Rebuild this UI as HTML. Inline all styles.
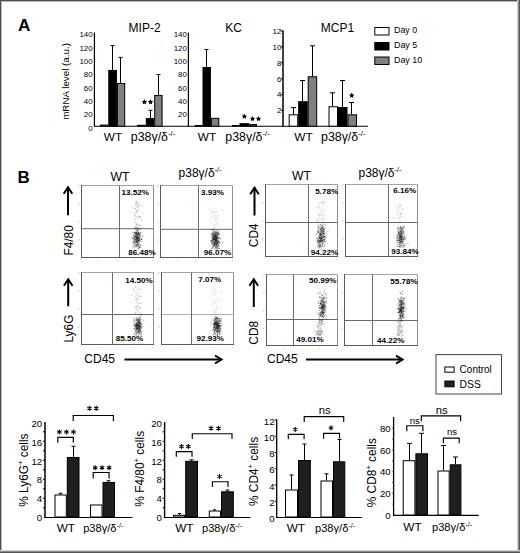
<!DOCTYPE html>
<html><head><meta charset="utf-8"><style>
html,body{margin:0;padding:0;background:#fff;}
svg{display:block;font-family:"Liberation Sans", sans-serif;}
text{fill:#000;}
</style></head><body>
<svg width="520" height="553" viewBox="0 0 520 553">
<defs><filter id="bl" x="-20%" y="-20%" width="140%" height="140%"><feGaussianBlur stdDeviation="0.35"/></filter></defs>
<rect x="0" y="0" width="520" height="553" fill="#fff"/>
<text x="17.90" y="30.50" font-size="17.2" text-anchor="start" font-weight="bold" >A</text>
<line x1="94.00" y1="126.20" x2="368.00" y2="126.20" stroke="#000" stroke-width="1.1"/>
<line x1="94.40" y1="32.50" x2="94.40" y2="126.70" stroke="#000" stroke-width="1.2"/>
<text x="92.60" y="130.80" font-size="7.9" text-anchor="end" font-weight="normal" >0</text>
<text x="92.60" y="117.44" font-size="7.9" text-anchor="end" font-weight="normal" >20</text>
<text x="92.60" y="104.08" font-size="7.9" text-anchor="end" font-weight="normal" >40</text>
<text x="92.60" y="90.72" font-size="7.9" text-anchor="end" font-weight="normal" >60</text>
<text x="92.60" y="77.36" font-size="7.9" text-anchor="end" font-weight="normal" >80</text>
<text x="92.60" y="64.00" font-size="7.9" text-anchor="end" font-weight="normal" >100</text>
<text x="92.60" y="50.64" font-size="7.9" text-anchor="end" font-weight="normal" >120</text>
<text x="92.60" y="37.28" font-size="7.9" text-anchor="end" font-weight="normal" >140</text>
<text x="144.60" y="31.70" font-size="12" text-anchor="middle" font-weight="normal" >MIP-2</text>
<text x="68.8" y="81.4" font-size="9.8" text-anchor="middle" font-weight="normal" transform="rotate(-90 68.8 81.4)">mRNA level (a.u.)</text>
<rect x="100.50" y="125.10" width="7.30" height="1.10" fill="#fff" stroke="#000" stroke-width="1"/>
<rect x="108.80" y="70.40" width="7.60" height="55.80" fill="#000" stroke="#000" stroke-width="1"/>
<rect x="117.40" y="83.50" width="7.30" height="42.70" fill="#808080" stroke="#000" stroke-width="1"/>
<line x1="112.50" y1="45.50" x2="112.50" y2="69.90" stroke="#000" stroke-width="1"/>
<line x1="110.50" y1="45.50" x2="114.50" y2="45.50" stroke="#000" stroke-width="1"/>
<line x1="120.50" y1="57.40" x2="120.50" y2="83.00" stroke="#000" stroke-width="1"/>
<line x1="118.50" y1="57.40" x2="122.50" y2="57.40" stroke="#000" stroke-width="1"/>
<rect x="137.50" y="125.30" width="7.80" height="0.90" fill="#fff" stroke="#000" stroke-width="1"/>
<rect x="146.30" y="118.60" width="7.40" height="7.60" fill="#000" stroke="#000" stroke-width="1"/>
<rect x="154.70" y="95.50" width="7.40" height="30.70" fill="#808080" stroke="#000" stroke-width="1"/>
<line x1="150.50" y1="110.30" x2="150.50" y2="118.10" stroke="#000" stroke-width="1"/>
<line x1="148.50" y1="110.30" x2="152.50" y2="110.30" stroke="#000" stroke-width="1"/>
<line x1="158.50" y1="74.50" x2="158.50" y2="95.00" stroke="#000" stroke-width="1"/>
<line x1="156.50" y1="74.50" x2="160.50" y2="74.50" stroke="#000" stroke-width="1"/>
<polygon points="144.50,99.25 145.34,100.84 147.12,101.15 145.86,102.44 146.12,104.22 144.50,103.43 142.88,104.22 143.14,102.44 141.88,101.15 143.66,100.84" fill="#000"/>
<polygon points="150.50,99.25 151.34,100.84 153.12,101.15 151.86,102.44 152.12,104.22 150.50,103.43 148.88,104.22 149.14,102.44 147.88,101.15 149.66,100.84" fill="#000"/>
<text x="113.00" y="141.40" font-size="11.8" text-anchor="middle" font-weight="normal" >WT</text>
<text x="130.8" y="141.4" font-size="12.4" text-anchor="start">p38&#947;/&#948;<tspan font-size="7.69" dy="-5.21">-/-</tspan></text>
<line x1="188.40" y1="32.50" x2="188.40" y2="126.70" stroke="#000" stroke-width="1.2"/>
<text x="186.80" y="117.44" font-size="7.9" text-anchor="end" font-weight="normal" >20</text>
<text x="186.80" y="104.08" font-size="7.9" text-anchor="end" font-weight="normal" >40</text>
<text x="186.80" y="90.72" font-size="7.9" text-anchor="end" font-weight="normal" >60</text>
<text x="186.80" y="77.36" font-size="7.9" text-anchor="end" font-weight="normal" >80</text>
<text x="186.80" y="64.00" font-size="7.9" text-anchor="end" font-weight="normal" >100</text>
<text x="186.80" y="50.64" font-size="7.9" text-anchor="end" font-weight="normal" >120</text>
<text x="186.80" y="37.28" font-size="7.9" text-anchor="end" font-weight="normal" >140</text>
<text x="233.60" y="32.00" font-size="12" text-anchor="middle" font-weight="normal" >KC</text>
<rect x="195.50" y="125.50" width="6.50" height="0.70" fill="#fff" stroke="#000" stroke-width="1"/>
<rect x="203.00" y="67.50" width="7.40" height="58.70" fill="#000" stroke="#000" stroke-width="1"/>
<rect x="211.40" y="118.30" width="7.40" height="7.90" fill="#808080" stroke="#000" stroke-width="1"/>
<line x1="206.50" y1="49.50" x2="206.50" y2="67.00" stroke="#000" stroke-width="1"/>
<line x1="204.50" y1="49.50" x2="208.50" y2="49.50" stroke="#000" stroke-width="1"/>
<rect x="232.50" y="125.50" width="6.50" height="0.70" fill="#fff" stroke="#000" stroke-width="1"/>
<rect x="240.00" y="123.70" width="8.90" height="2.50" fill="#000" stroke="#000" stroke-width="1"/>
<rect x="249.90" y="124.60" width="6.60" height="1.60" fill="#333" stroke="#000" stroke-width="1"/>
<polygon points="244.40,113.75 245.24,115.34 247.02,115.65 245.76,116.94 246.02,118.72 244.40,117.93 242.78,118.72 243.04,116.94 241.78,115.65 243.56,115.34" fill="#000"/>
<polygon points="252.50,116.05 253.34,117.64 255.12,117.95 253.86,119.24 254.12,121.02 252.50,120.23 250.88,121.02 251.14,119.24 249.88,117.95 251.66,117.64" fill="#000"/>
<polygon points="258.50,116.05 259.34,117.64 261.12,117.95 259.86,119.24 260.12,121.02 258.50,120.23 256.88,121.02 257.14,119.24 255.88,117.95 257.66,117.64" fill="#000"/>
<text x="207.00" y="141.40" font-size="11.8" text-anchor="middle" font-weight="normal" >WT</text>
<text x="225.3" y="141.4" font-size="12.4" text-anchor="start">p38&#947;/&#948;<tspan font-size="7.69" dy="-5.21">-/-</tspan></text>
<line x1="283.00" y1="30.50" x2="283.00" y2="126.70" stroke="#000" stroke-width="1.5"/>
<line x1="281.00" y1="110.58" x2="283.00" y2="110.58" stroke="#000" stroke-width="1"/>
<text x="281.30" y="113.38" font-size="7.9" text-anchor="end" font-weight="normal" >2</text>
<line x1="281.00" y1="94.66" x2="283.00" y2="94.66" stroke="#000" stroke-width="1"/>
<text x="281.30" y="97.46" font-size="7.9" text-anchor="end" font-weight="normal" >4</text>
<line x1="281.00" y1="78.74" x2="283.00" y2="78.74" stroke="#000" stroke-width="1"/>
<text x="281.30" y="81.54" font-size="7.9" text-anchor="end" font-weight="normal" >6</text>
<line x1="281.00" y1="62.82" x2="283.00" y2="62.82" stroke="#000" stroke-width="1"/>
<text x="281.30" y="65.62" font-size="7.9" text-anchor="end" font-weight="normal" >8</text>
<line x1="281.00" y1="46.90" x2="283.00" y2="46.90" stroke="#000" stroke-width="1"/>
<text x="281.30" y="49.70" font-size="7.9" text-anchor="end" font-weight="normal" >10</text>
<line x1="281.00" y1="30.98" x2="283.00" y2="30.98" stroke="#000" stroke-width="1"/>
<text x="281.30" y="33.78" font-size="7.9" text-anchor="end" font-weight="normal" >12</text>
<text x="337.40" y="32.40" font-size="12" text-anchor="middle" font-weight="normal" >MCP1</text>
<rect x="289.20" y="114.80" width="8.50" height="11.40" fill="#fff" stroke="#000" stroke-width="1"/>
<rect x="298.70" y="101.70" width="8.50" height="24.50" fill="#000" stroke="#000" stroke-width="1"/>
<rect x="308.20" y="76.80" width="8.50" height="49.40" fill="#808080" stroke="#000" stroke-width="1"/>
<line x1="293.50" y1="107.60" x2="293.50" y2="114.30" stroke="#000" stroke-width="1"/>
<line x1="291.00" y1="107.60" x2="296.00" y2="107.60" stroke="#000" stroke-width="1"/>
<line x1="302.50" y1="80.50" x2="302.50" y2="101.20" stroke="#000" stroke-width="1"/>
<line x1="300.00" y1="80.50" x2="305.00" y2="80.50" stroke="#000" stroke-width="1"/>
<line x1="312.50" y1="45.80" x2="312.50" y2="76.30" stroke="#000" stroke-width="1"/>
<line x1="310.00" y1="45.80" x2="315.00" y2="45.80" stroke="#000" stroke-width="1"/>
<rect x="329.00" y="106.80" width="8.50" height="19.40" fill="#fff" stroke="#000" stroke-width="1"/>
<rect x="338.50" y="107.50" width="8.50" height="18.70" fill="#000" stroke="#000" stroke-width="1"/>
<rect x="348.00" y="114.80" width="8.50" height="11.40" fill="#808080" stroke="#000" stroke-width="1"/>
<line x1="332.50" y1="92.80" x2="332.50" y2="106.30" stroke="#000" stroke-width="1"/>
<line x1="330.00" y1="92.80" x2="335.00" y2="92.80" stroke="#000" stroke-width="1"/>
<line x1="342.50" y1="80.50" x2="342.50" y2="107.00" stroke="#000" stroke-width="1"/>
<line x1="340.00" y1="80.50" x2="345.00" y2="80.50" stroke="#000" stroke-width="1"/>
<line x1="351.50" y1="102.50" x2="351.50" y2="114.30" stroke="#000" stroke-width="1"/>
<line x1="349.00" y1="102.50" x2="354.00" y2="102.50" stroke="#000" stroke-width="1"/>
<polygon points="351.70,92.75 352.54,94.34 354.32,94.65 353.06,95.94 353.32,97.72 351.70,96.93 350.08,97.72 350.34,95.94 349.08,94.65 350.86,94.34" fill="#000"/>
<text x="303.50" y="141.40" font-size="11.8" text-anchor="middle" font-weight="normal" >WT</text>
<text x="321" y="141.4" font-size="12.4" text-anchor="start">p38&#947;/&#948;<tspan font-size="7.69" dy="-5.21">-/-</tspan></text>
<rect x="374.80" y="27.50" width="14.20" height="7.50" fill="#fff" stroke="#000" stroke-width="1"/>
<rect x="374.80" y="42.50" width="14.20" height="7.50" fill="#000" stroke="#000" stroke-width="1"/>
<rect x="374.80" y="57.00" width="14.20" height="7.50" fill="#808080" stroke="#000" stroke-width="1"/>
<text x="394.00" y="33.20" font-size="8.9" text-anchor="start" font-weight="normal" >Day 0</text>
<text x="394.00" y="48.20" font-size="8.9" text-anchor="start" font-weight="normal" >Day 5</text>
<text x="394.00" y="63.20" font-size="8.9" text-anchor="start" font-weight="normal" >Day 10</text>
<text x="17.50" y="182.90" font-size="16.9" text-anchor="start" font-weight="bold" >B</text>
<text x="119.90" y="180.60" font-size="12.2" text-anchor="middle" font-weight="normal" >WT</text>
<text x="178.6" y="177.1" font-size="12" text-anchor="start">p38&#947;/&#948;<tspan font-size="7.44" dy="-5.04">-/-</tspan></text>
<text x="301.50" y="179.90" font-size="12.2" text-anchor="middle" font-weight="normal" >WT</text>
<text x="358.5" y="177.1" font-size="12" text-anchor="start">p38&#947;/&#948;<tspan font-size="7.44" dy="-5.04">-/-</tspan></text>
<line x1="81.50" y1="185.50" x2="153.50" y2="185.50" stroke="#a2a2a2" stroke-width="1"/>
<line x1="153.50" y1="185.50" x2="153.50" y2="257.50" stroke="#929292" stroke-width="1"/>
<line x1="81.50" y1="185.00" x2="81.50" y2="258.00" stroke="#5a5a5a" stroke-width="1"/>
<line x1="81.50" y1="257.50" x2="154.00" y2="257.50" stroke="#5a5a5a" stroke-width="1"/>
<line x1="81.50" y1="228.70" x2="153.50" y2="228.70" stroke="#6a6a6a" stroke-width="1"/>
<line x1="119.50" y1="185.50" x2="119.50" y2="257.50" stroke="#6a6a6a" stroke-width="1"/>
<line x1="78.00" y1="186.70" x2="79.70" y2="185.30" stroke="#aaa" stroke-width="0.7"/>
<line x1="78.00" y1="204.70" x2="79.70" y2="203.30" stroke="#aaa" stroke-width="0.7"/>
<line x1="78.00" y1="222.70" x2="79.70" y2="221.30" stroke="#aaa" stroke-width="0.7"/>
<line x1="78.00" y1="240.70" x2="79.70" y2="239.30" stroke="#aaa" stroke-width="0.7"/>
<line x1="98.50" y1="261.20" x2="99.50" y2="260.00" stroke="#aaa" stroke-width="0.7"/>
<line x1="116.50" y1="261.20" x2="117.50" y2="260.00" stroke="#aaa" stroke-width="0.7"/>
<line x1="134.50" y1="261.20" x2="135.50" y2="260.00" stroke="#aaa" stroke-width="0.7"/>
<line x1="152.50" y1="261.20" x2="153.50" y2="260.00" stroke="#aaa" stroke-width="0.7"/>
<g filter="url(#bl)"><path d="M138.3 210.1h1v1h-1zM136.0 203.0h1v1h-1zM130.5 217.2h1v1h-1zM133.9 218.9h1v1h-1zM138.4 202.7h1v1h-1zM134.5 221.4h1v1h-1zM134.5 201.6h1v1h-1zM141.0 211.0h1v1h-1zM136.7 202.7h1v1h-1zM137.3 206.8h1v1h-1zM138.0 201.0h1v1h-1zM136.6 218.2h1v1h-1zM134.7 208.1h1v1h-1zM135.0 214.0h1v1h-1zM136.6 215.8h1v1h-1zM134.2 211.0h1v1h-1zM137.8 221.3h1v1h-1zM134.0 204.7h1v1h-1zM138.9 215.7h1v1h-1z" fill="#000" fill-opacity="0.10"/><path d="M139.2 216.0h1v1h-1zM135.3 202.6h1v1h-1zM136.7 212.9h1v1h-1zM140.6 225.0h1v1h-1zM137.1 213.7h1v1h-1zM139.9 217.2h1v1h-1zM141.0 219.1h1v1h-1zM138.6 203.3h1v1h-1zM132.9 208.8h1v1h-1zM131.7 205.9h1v1h-1zM132.6 207.5h1v1h-1zM136.3 201.1h1v1h-1zM136.2 210.6h1v1h-1zM138.3 227.8h1v1h-1zM142.7 227.2h1v1h-1zM135.6 207.2h1v1h-1zM139.7 224.5h1v1h-1zM136.7 224.1h1v1h-1zM136.8 210.9h1v1h-1zM134.9 208.0h1v1h-1z" fill="#000" fill-opacity="0.15"/><path d="M137.6 206.1h1v1h-1zM134.2 220.1h1v1h-1zM135.6 223.2h1v1h-1zM135.3 205.3h1v1h-1zM136.3 222.4h1v1h-1zM134.7 225.5h1v1h-1zM139.0 224.5h1v1h-1zM135.0 202.7h1v1h-1zM135.9 211.8h1v1h-1zM130.2 211.3h1v1h-1zM133.6 215.4h1v1h-1zM135.1 212.0h1v1h-1zM136.8 225.2h1v1h-1zM136.1 223.9h1v1h-1zM135.6 201.8h1v1h-1zM136.5 219.3h1v1h-1zM135.0 228.4h1v1h-1zM138.0 207.7h1v1h-1zM134.6 215.0h1v1h-1zM131.9 205.8h1v1h-1zM136.8 210.1h1v1h-1zM136.4 216.6h1v1h-1zM139.7 233.8h1v1h-1zM135.7 231.9h1v1h-1zM138.2 237.5h1v1h-1zM138.4 235.6h1v1h-1zM139.0 239.5h1v1h-1zM139.2 235.1h1v1h-1zM136.0 233.7h1v1h-1zM132.9 244.0h1v1h-1zM137.0 230.3h1v1h-1zM135.8 234.6h1v1h-1zM135.6 241.5h1v1h-1zM136.3 237.4h1v1h-1zM137.3 231.9h1v1h-1zM134.9 235.0h1v1h-1zM133.1 239.3h1v1h-1zM138.6 235.1h1v1h-1zM137.0 237.7h1v1h-1zM138.9 247.4h1v1h-1z" fill="#000" fill-opacity="0.20"/><path d="M135.0 218.6h1v1h-1zM137.7 205.0h1v1h-1zM134.3 215.7h1v1h-1zM143.2 212.7h1v1h-1zM136.4 202.7h1v1h-1zM136.1 204.6h1v1h-1zM139.7 216.4h1v1h-1zM141.5 219.9h1v1h-1zM138.1 225.5h1v1h-1zM135.6 203.8h1v1h-1zM138.3 224.8h1v1h-1zM136.5 224.2h1v1h-1zM139.3 216.2h1v1h-1zM135.0 208.3h1v1h-1zM137.3 215.9h1v1h-1zM136.9 210.2h1v1h-1zM140.9 224.9h1v1h-1zM137.1 206.5h1v1h-1zM135.2 226.5h1v1h-1zM134.6 222.0h1v1h-1zM136.3 210.3h1v1h-1zM134.2 228.2h1v1h-1zM139.3 204.6h1v1h-1zM140.6 205.1h1v1h-1zM134.4 228.2h1v1h-1zM133.6 213.1h1v1h-1zM134.9 208.3h1v1h-1zM138.4 217.3h1v1h-1zM136.3 201.1h1v1h-1zM135.5 239.1h1v1h-1zM136.3 232.5h1v1h-1zM137.9 243.8h1v1h-1zM135.6 236.8h1v1h-1zM134.4 235.3h1v1h-1zM138.7 246.9h1v1h-1zM136.6 240.4h1v1h-1zM136.2 238.0h1v1h-1zM131.4 230.6h1v1h-1zM137.6 233.3h1v1h-1zM137.8 237.4h1v1h-1zM134.4 231.6h1v1h-1zM139.7 246.1h1v1h-1zM137.8 236.3h1v1h-1zM137.2 237.2h1v1h-1zM135.7 232.3h1v1h-1zM136.4 243.5h1v1h-1zM137.9 233.9h1v1h-1zM142.2 235.0h1v1h-1zM133.9 231.9h1v1h-1zM135.8 241.0h1v1h-1zM135.7 243.6h1v1h-1zM142.3 240.9h1v1h-1zM133.2 237.9h1v1h-1zM137.9 236.7h1v1h-1zM136.7 241.8h1v1h-1zM136.5 235.3h1v1h-1zM136.4 236.1h1v1h-1zM139.1 241.2h1v1h-1zM136.2 227.2h1v1h-1zM136.9 242.1h1v1h-1zM135.0 234.5h1v1h-1zM135.7 240.9h1v1h-1zM138.6 242.0h1v1h-1zM133.4 238.3h1v1h-1zM138.4 236.3h1v1h-1zM135.3 239.2h1v1h-1zM138.8 240.2h1v1h-1zM138.2 241.5h1v1h-1zM137.4 231.4h1v1h-1zM133.9 238.6h1v1h-1zM132.5 236.4h1v1h-1zM140.5 235.9h1v1h-1zM136.2 241.6h1v1h-1zM132.5 246.1h1v1h-1zM135.0 231.2h1v1h-1zM134.7 233.1h1v1h-1zM135.9 241.3h1v1h-1zM137.4 234.1h1v1h-1zM136.1 240.3h1v1h-1zM137.5 240.7h1v1h-1zM135.7 233.2h1v1h-1zM136.9 238.3h1v1h-1zM135.6 242.1h1v1h-1zM136.1 240.0h1v1h-1zM135.2 234.4h1v1h-1zM138.6 245.1h1v1h-1zM135.7 241.2h1v1h-1zM136.6 235.7h1v1h-1z" fill="#000" fill-opacity="0.25"/><path d="M136.8 235.5h1v1h-1zM134.4 246.1h1v1h-1zM134.7 241.4h1v1h-1zM137.9 240.1h1v1h-1zM135.2 238.6h1v1h-1zM135.1 246.2h1v1h-1zM134.1 232.8h1v1h-1zM138.1 236.7h1v1h-1zM137.5 237.3h1v1h-1zM136.6 238.6h1v1h-1zM135.0 241.5h1v1h-1zM133.4 234.0h1v1h-1zM136.7 240.4h1v1h-1zM137.4 237.5h1v1h-1zM136.1 243.8h1v1h-1zM133.4 234.6h1v1h-1zM138.9 238.2h1v1h-1zM134.1 237.6h1v1h-1zM137.8 237.8h1v1h-1zM135.4 235.1h1v1h-1zM138.3 241.8h1v1h-1zM139.7 237.0h1v1h-1zM137.4 238.3h1v1h-1zM137.4 240.9h1v1h-1zM138.2 238.4h1v1h-1zM131.9 246.6h1v1h-1zM137.6 236.5h1v1h-1zM136.7 233.5h1v1h-1zM135.7 245.8h1v1h-1zM140.3 233.6h1v1h-1zM140.2 239.2h1v1h-1zM136.1 240.4h1v1h-1zM136.7 239.3h1v1h-1zM135.0 236.1h1v1h-1zM136.6 241.2h1v1h-1zM138.0 248.5h1v1h-1zM138.9 228.3h1v1h-1zM137.8 239.4h1v1h-1zM136.3 238.6h1v1h-1zM138.6 239.6h1v1h-1zM135.6 229.0h1v1h-1zM139.2 233.4h1v1h-1zM135.7 235.1h1v1h-1zM136.4 244.3h1v1h-1zM134.8 240.7h1v1h-1zM139.1 235.2h1v1h-1zM135.0 239.3h1v1h-1zM138.1 232.1h1v1h-1zM134.8 232.8h1v1h-1zM136.2 239.3h1v1h-1zM139.6 232.0h1v1h-1zM140.4 238.7h1v1h-1zM136.5 237.9h1v1h-1zM137.8 241.6h1v1h-1zM134.3 238.6h1v1h-1zM135.1 245.8h1v1h-1zM135.2 238.8h1v1h-1zM134.1 237.2h1v1h-1zM133.6 242.4h1v1h-1zM136.7 241.8h1v1h-1zM140.5 232.2h1v1h-1zM137.7 244.2h1v1h-1zM133.0 236.6h1v1h-1zM138.9 240.1h1v1h-1zM133.5 239.3h1v1h-1z" fill="#000" fill-opacity="0.30"/><path d="M133.9 238.4h1v1h-1zM131.7 238.3h1v1h-1zM134.8 232.5h1v1h-1zM134.2 235.4h1v1h-1zM135.4 239.1h1v1h-1zM139.2 233.7h1v1h-1zM137.6 237.1h1v1h-1zM140.5 244.8h1v1h-1zM136.4 233.4h1v1h-1zM137.5 239.5h1v1h-1zM137.6 232.2h1v1h-1zM136.8 234.4h1v1h-1zM138.2 232.9h1v1h-1zM139.4 238.3h1v1h-1zM135.4 238.6h1v1h-1zM139.1 245.8h1v1h-1zM133.9 237.4h1v1h-1zM136.2 231.4h1v1h-1zM135.9 234.8h1v1h-1zM135.4 233.1h1v1h-1zM138.2 237.5h1v1h-1zM133.8 248.7h1v1h-1zM137.7 232.6h1v1h-1zM137.3 240.0h1v1h-1zM133.5 231.9h1v1h-1zM137.6 243.6h1v1h-1zM136.6 242.1h1v1h-1zM138.3 236.7h1v1h-1zM136.9 235.8h1v1h-1zM133.0 239.8h1v1h-1zM133.4 236.3h1v1h-1zM138.3 239.9h1v1h-1zM132.7 234.2h1v1h-1zM136.7 243.8h1v1h-1zM135.0 228.2h1v1h-1zM137.6 233.8h1v1h-1zM137.4 241.1h1v1h-1zM136.1 238.8h1v1h-1zM138.5 243.0h1v1h-1zM135.2 234.2h1v1h-1zM132.7 238.3h1v1h-1zM136.9 237.3h1v1h-1zM133.7 242.0h1v1h-1zM132.4 240.5h1v1h-1zM136.7 245.4h1v1h-1zM139.1 232.8h1v1h-1zM136.1 238.9h1v1h-1zM136.2 237.7h1v1h-1zM133.5 242.6h1v1h-1zM136.1 237.2h1v1h-1z" fill="#000" fill-opacity="0.35"/><path d="M135.7 240.0h1v1h-1zM133.5 241.8h1v1h-1zM137.1 238.9h1v1h-1zM132.8 243.5h1v1h-1zM133.3 237.5h1v1h-1zM136.4 240.6h1v1h-1zM134.6 243.5h1v1h-1zM134.3 232.1h1v1h-1zM135.8 236.4h1v1h-1zM135.0 237.0h1v1h-1zM136.9 229.2h1v1h-1zM137.8 240.0h1v1h-1zM137.1 241.5h1v1h-1zM136.6 241.4h1v1h-1zM133.8 245.0h1v1h-1zM135.8 237.2h1v1h-1zM137.6 228.7h1v1h-1zM134.6 227.1h1v1h-1zM131.7 232.1h1v1h-1zM141.4 238.9h1v1h-1zM137.5 234.5h1v1h-1zM136.9 243.9h1v1h-1zM137.3 233.8h1v1h-1zM138.5 234.5h1v1h-1zM140.2 240.6h1v1h-1zM138.8 238.5h1v1h-1zM133.8 246.7h1v1h-1zM136.5 240.6h1v1h-1zM135.2 241.2h1v1h-1zM136.7 241.5h1v1h-1zM138.1 240.2h1v1h-1zM138.2 246.5h1v1h-1zM136.7 237.6h1v1h-1zM138.8 247.0h1v1h-1zM137.0 242.7h1v1h-1zM134.3 236.9h1v1h-1zM137.6 241.8h1v1h-1zM139.6 228.4h1v1h-1zM137.7 240.5h1v1h-1zM135.4 232.5h1v1h-1zM135.8 236.0h1v1h-1zM139.2 238.9h1v1h-1zM138.5 235.5h1v1h-1zM134.7 233.4h1v1h-1zM135.2 235.1h1v1h-1zM136.8 240.6h1v1h-1zM137.7 240.2h1v1h-1zM134.9 232.4h1v1h-1zM139.6 232.8h1v1h-1zM136.2 233.2h1v1h-1zM131.2 237.0h1v1h-1zM141.3 238.3h1v1h-1zM137.3 227.2h1v1h-1zM134.7 241.2h1v1h-1zM136.6 239.1h1v1h-1zM134.0 231.8h1v1h-1zM138.3 237.3h1v1h-1zM138.0 236.7h1v1h-1zM136.5 234.8h1v1h-1zM138.4 246.0h1v1h-1z" fill="#000" fill-opacity="0.40"/><path d="M135.1 239.3h1v1h-1zM139.3 237.1h1v1h-1zM138.0 244.8h1v1h-1zM135.5 235.9h1v1h-1zM136.2 241.3h1v1h-1zM137.1 237.3h1v1h-1zM135.3 244.7h1v1h-1zM136.0 236.5h1v1h-1zM136.4 227.1h1v1h-1zM133.9 240.9h1v1h-1zM136.5 237.1h1v1h-1zM138.9 235.7h1v1h-1zM136.2 240.3h1v1h-1zM136.0 236.9h1v1h-1zM137.1 237.2h1v1h-1zM134.9 239.8h1v1h-1zM138.5 239.5h1v1h-1zM137.2 237.1h1v1h-1zM137.8 239.5h1v1h-1zM136.5 233.6h1v1h-1zM136.4 229.7h1v1h-1zM137.9 232.7h1v1h-1zM137.2 246.0h1v1h-1zM139.7 227.7h1v1h-1zM136.3 236.0h1v1h-1zM135.7 245.1h1v1h-1zM135.8 237.3h1v1h-1zM137.3 228.8h1v1h-1zM136.3 237.9h1v1h-1zM135.6 246.6h1v1h-1zM134.2 235.9h1v1h-1zM134.8 243.2h1v1h-1zM135.9 229.4h1v1h-1zM136.5 233.8h1v1h-1zM138.5 230.0h1v1h-1zM139.4 240.2h1v1h-1zM136.3 245.4h1v1h-1zM135.9 244.8h1v1h-1zM135.1 236.1h1v1h-1zM138.4 233.8h1v1h-1zM136.6 235.7h1v1h-1zM135.3 239.0h1v1h-1zM138.7 238.5h1v1h-1zM135.9 237.6h1v1h-1zM136.4 232.1h1v1h-1zM136.2 243.9h1v1h-1zM135.8 240.4h1v1h-1zM135.2 237.6h1v1h-1zM137.6 248.5h1v1h-1zM137.6 231.5h1v1h-1zM138.3 244.0h1v1h-1zM137.2 237.0h1v1h-1zM135.7 231.9h1v1h-1zM136.2 241.3h1v1h-1zM135.9 235.9h1v1h-1zM132.8 241.7h1v1h-1zM138.3 247.6h1v1h-1zM136.9 238.6h1v1h-1zM133.6 240.5h1v1h-1zM137.1 230.9h1v1h-1zM136.6 231.1h1v1h-1zM135.0 239.6h1v1h-1zM137.8 233.0h1v1h-1zM138.2 238.7h1v1h-1zM136.5 232.1h1v1h-1z" fill="#000" fill-opacity="0.45"/><path d="M138.0 232.4h1v1h-1zM142.1 236.3h1v1h-1zM136.0 233.6h1v1h-1zM138.1 233.7h1v1h-1zM139.9 234.8h1v1h-1zM136.5 233.8h1v1h-1zM141.0 239.0h1v1h-1zM137.6 237.2h1v1h-1zM140.3 246.7h1v1h-1zM139.8 244.6h1v1h-1zM137.0 237.2h1v1h-1zM133.5 234.6h1v1h-1zM137.9 234.2h1v1h-1z" fill="#000" fill-opacity="0.50"/></g>
<text x="149.00" y="195.30" font-size="8.1" text-anchor="end" font-weight="bold" >13.52%</text>
<text x="155.80" y="255.00" font-size="8.1" text-anchor="end" font-weight="bold" >86.48%</text>
<line x1="160.50" y1="185.50" x2="232.50" y2="185.50" stroke="#a2a2a2" stroke-width="1"/>
<line x1="232.50" y1="185.50" x2="232.50" y2="257.50" stroke="#929292" stroke-width="1"/>
<line x1="160.50" y1="185.00" x2="160.50" y2="258.00" stroke="#5a5a5a" stroke-width="1"/>
<line x1="160.50" y1="257.50" x2="233.00" y2="257.50" stroke="#5a5a5a" stroke-width="1"/>
<line x1="160.50" y1="229.30" x2="232.50" y2="229.30" stroke="#6a6a6a" stroke-width="1"/>
<line x1="198.50" y1="185.50" x2="198.50" y2="257.50" stroke="#6a6a6a" stroke-width="1"/>
<line x1="157.00" y1="186.70" x2="158.70" y2="185.30" stroke="#aaa" stroke-width="0.7"/>
<line x1="157.00" y1="204.70" x2="158.70" y2="203.30" stroke="#aaa" stroke-width="0.7"/>
<line x1="157.00" y1="222.70" x2="158.70" y2="221.30" stroke="#aaa" stroke-width="0.7"/>
<line x1="157.00" y1="240.70" x2="158.70" y2="239.30" stroke="#aaa" stroke-width="0.7"/>
<line x1="177.50" y1="261.20" x2="178.50" y2="260.00" stroke="#aaa" stroke-width="0.7"/>
<line x1="195.50" y1="261.20" x2="196.50" y2="260.00" stroke="#aaa" stroke-width="0.7"/>
<line x1="213.50" y1="261.20" x2="214.50" y2="260.00" stroke="#aaa" stroke-width="0.7"/>
<line x1="231.50" y1="261.20" x2="232.50" y2="260.00" stroke="#aaa" stroke-width="0.7"/>
<g filter="url(#bl)"><path d="M214.0 216.2h1v1h-1z" fill="#000" fill-opacity="0.05"/><path d="M216.8 210.6h1v1h-1zM215.1 226.6h1v1h-1zM216.2 211.2h1v1h-1zM216.8 219.0h1v1h-1zM220.3 223.4h1v1h-1zM214.1 212.1h1v1h-1zM210.8 221.3h1v1h-1zM213.3 227.1h1v1h-1zM215.0 220.1h1v1h-1zM209.8 221.5h1v1h-1zM214.1 214.6h1v1h-1zM215.0 221.2h1v1h-1zM217.9 221.1h1v1h-1zM214.2 224.3h1v1h-1zM217.1 215.5h1v1h-1zM215.8 208.3h1v1h-1zM214.2 216.8h1v1h-1zM214.7 216.2h1v1h-1zM214.0 217.8h1v1h-1zM218.4 225.5h1v1h-1zM214.7 225.9h1v1h-1zM217.7 216.9h1v1h-1zM214.6 208.1h1v1h-1zM212.8 214.3h1v1h-1zM212.3 217.0h1v1h-1z" fill="#000" fill-opacity="0.10"/><path d="M211.7 212.9h1v1h-1zM215.8 223.8h1v1h-1zM214.2 215.3h1v1h-1zM216.4 221.9h1v1h-1zM210.5 211.6h1v1h-1zM216.8 222.8h1v1h-1zM217.8 214.9h1v1h-1zM209.0 210.1h1v1h-1zM216.1 216.4h1v1h-1zM212.7 211.0h1v1h-1zM212.1 223.2h1v1h-1zM213.3 224.3h1v1h-1zM214.1 224.4h1v1h-1zM216.6 222.2h1v1h-1zM215.8 218.3h1v1h-1zM214.9 211.4h1v1h-1zM213.7 227.8h1v1h-1zM214.8 219.4h1v1h-1zM211.6 218.8h1v1h-1zM213.9 212.4h1v1h-1zM212.5 212.7h1v1h-1zM213.1 227.7h1v1h-1zM215.8 210.7h1v1h-1zM210.0 217.9h1v1h-1zM217.5 212.7h1v1h-1zM214.4 225.2h1v1h-1z" fill="#000" fill-opacity="0.15"/><path d="M222.1 210.1h1v1h-1zM211.0 216.6h1v1h-1zM212.4 210.6h1v1h-1z" fill="#000" fill-opacity="0.20"/><path d="M215.4 242.7h1v1h-1zM213.8 243.4h1v1h-1zM215.2 239.0h1v1h-1zM217.3 243.4h1v1h-1zM214.3 238.4h1v1h-1zM213.0 234.2h1v1h-1zM214.5 237.3h1v1h-1zM212.9 242.2h1v1h-1zM217.8 245.8h1v1h-1zM215.1 237.1h1v1h-1zM213.2 236.6h1v1h-1z" fill="#000" fill-opacity="0.25"/><path d="M218.4 232.7h1v1h-1zM213.6 236.3h1v1h-1zM216.7 242.4h1v1h-1zM212.3 232.5h1v1h-1zM214.0 238.7h1v1h-1zM215.8 244.8h1v1h-1zM217.0 247.4h1v1h-1zM213.6 238.2h1v1h-1zM214.2 235.6h1v1h-1zM216.9 235.0h1v1h-1zM216.4 235.6h1v1h-1zM215.3 237.6h1v1h-1zM213.1 231.1h1v1h-1zM216.3 236.7h1v1h-1zM213.6 237.8h1v1h-1zM211.8 245.8h1v1h-1zM213.4 241.0h1v1h-1zM216.1 240.9h1v1h-1zM213.9 243.0h1v1h-1zM215.3 237.3h1v1h-1zM213.7 233.2h1v1h-1zM216.0 239.6h1v1h-1zM215.8 235.6h1v1h-1zM212.4 235.1h1v1h-1zM215.1 240.7h1v1h-1zM214.8 236.2h1v1h-1zM216.4 238.7h1v1h-1zM211.6 242.2h1v1h-1zM211.9 232.9h1v1h-1zM213.3 243.9h1v1h-1zM212.7 243.3h1v1h-1zM212.1 246.6h1v1h-1zM213.8 238.1h1v1h-1zM214.5 241.7h1v1h-1zM212.3 235.6h1v1h-1zM211.9 239.2h1v1h-1zM216.0 242.5h1v1h-1zM213.6 242.1h1v1h-1zM217.7 233.3h1v1h-1zM215.6 240.6h1v1h-1zM215.8 239.4h1v1h-1zM214.3 242.7h1v1h-1zM216.6 240.2h1v1h-1zM214.4 245.3h1v1h-1zM218.8 241.0h1v1h-1zM217.6 235.2h1v1h-1zM216.1 241.3h1v1h-1zM214.0 236.2h1v1h-1zM215.0 239.9h1v1h-1zM215.3 242.2h1v1h-1zM213.4 230.5h1v1h-1zM215.4 240.3h1v1h-1zM214.0 236.3h1v1h-1zM213.0 239.3h1v1h-1zM217.5 236.3h1v1h-1zM212.8 237.7h1v1h-1zM215.8 239.4h1v1h-1z" fill="#000" fill-opacity="0.30"/><path d="M214.4 234.7h1v1h-1zM218.3 233.0h1v1h-1zM213.7 229.3h1v1h-1zM212.0 233.3h1v1h-1zM212.4 240.0h1v1h-1zM216.9 236.8h1v1h-1zM216.6 244.5h1v1h-1zM215.3 246.7h1v1h-1zM214.2 239.4h1v1h-1zM215.0 236.7h1v1h-1zM217.7 244.2h1v1h-1zM212.4 240.0h1v1h-1zM213.8 243.7h1v1h-1zM214.9 231.9h1v1h-1zM210.8 233.9h1v1h-1zM215.2 235.0h1v1h-1zM217.7 241.9h1v1h-1zM218.6 241.3h1v1h-1zM215.5 238.8h1v1h-1zM213.8 245.8h1v1h-1zM215.0 235.4h1v1h-1zM214.1 236.5h1v1h-1zM218.1 245.0h1v1h-1zM215.5 235.9h1v1h-1zM215.5 242.4h1v1h-1zM214.8 244.2h1v1h-1zM217.9 241.0h1v1h-1zM210.9 233.0h1v1h-1zM213.3 239.6h1v1h-1zM218.3 233.2h1v1h-1zM220.1 238.0h1v1h-1zM215.3 240.3h1v1h-1zM212.5 237.0h1v1h-1zM217.1 234.7h1v1h-1zM215.2 246.1h1v1h-1zM213.2 232.9h1v1h-1zM212.5 243.1h1v1h-1zM212.7 246.8h1v1h-1zM214.2 240.1h1v1h-1zM216.4 241.2h1v1h-1zM214.2 233.7h1v1h-1zM215.3 235.4h1v1h-1zM217.3 248.5h1v1h-1zM214.0 248.7h1v1h-1zM213.0 238.4h1v1h-1zM211.9 238.2h1v1h-1zM214.8 243.3h1v1h-1zM214.2 233.9h1v1h-1zM213.6 245.1h1v1h-1zM211.4 242.9h1v1h-1zM216.8 237.7h1v1h-1zM215.8 239.6h1v1h-1zM215.5 234.2h1v1h-1zM217.8 242.5h1v1h-1zM211.3 242.6h1v1h-1zM217.2 247.7h1v1h-1zM214.7 232.0h1v1h-1zM215.6 237.9h1v1h-1zM212.2 235.2h1v1h-1zM218.8 238.6h1v1h-1zM216.5 239.9h1v1h-1zM211.9 243.0h1v1h-1zM213.3 245.0h1v1h-1zM214.1 242.8h1v1h-1zM216.6 244.8h1v1h-1zM215.4 235.1h1v1h-1zM214.0 241.9h1v1h-1zM214.0 232.7h1v1h-1z" fill="#000" fill-opacity="0.35"/><path d="M217.8 241.1h1v1h-1zM215.1 235.7h1v1h-1zM215.1 248.5h1v1h-1zM217.0 239.9h1v1h-1zM213.1 241.0h1v1h-1zM210.8 236.7h1v1h-1zM217.8 240.3h1v1h-1zM214.6 244.4h1v1h-1zM212.7 234.0h1v1h-1zM213.5 229.7h1v1h-1zM216.4 237.5h1v1h-1zM211.4 238.6h1v1h-1zM213.3 243.2h1v1h-1zM214.1 233.6h1v1h-1zM216.4 241.8h1v1h-1zM214.6 234.0h1v1h-1zM217.4 241.8h1v1h-1zM213.9 235.6h1v1h-1zM212.5 242.5h1v1h-1zM218.0 233.3h1v1h-1zM216.0 246.2h1v1h-1zM217.1 241.7h1v1h-1zM219.3 229.8h1v1h-1zM212.7 243.6h1v1h-1zM218.4 244.4h1v1h-1zM212.4 229.2h1v1h-1zM212.8 235.2h1v1h-1zM216.7 229.8h1v1h-1zM214.4 239.5h1v1h-1zM213.9 235.6h1v1h-1zM213.3 243.3h1v1h-1zM216.0 237.9h1v1h-1zM214.4 235.3h1v1h-1zM215.0 234.7h1v1h-1zM211.5 238.1h1v1h-1zM212.3 239.2h1v1h-1zM214.3 245.1h1v1h-1zM216.4 234.4h1v1h-1zM213.3 237.8h1v1h-1zM211.1 240.8h1v1h-1zM214.9 240.1h1v1h-1zM212.8 238.1h1v1h-1zM218.7 242.4h1v1h-1zM219.1 233.6h1v1h-1zM215.8 237.8h1v1h-1zM215.7 232.7h1v1h-1zM214.6 244.3h1v1h-1zM217.5 246.0h1v1h-1zM216.5 242.8h1v1h-1zM214.2 234.4h1v1h-1zM214.2 233.9h1v1h-1zM218.4 242.8h1v1h-1zM213.4 237.7h1v1h-1zM214.2 234.4h1v1h-1zM216.7 233.5h1v1h-1zM215.0 231.0h1v1h-1zM215.7 236.6h1v1h-1zM213.1 236.6h1v1h-1z" fill="#000" fill-opacity="0.40"/><path d="M217.8 244.7h1v1h-1zM212.7 231.5h1v1h-1zM216.2 245.1h1v1h-1zM215.4 245.5h1v1h-1zM215.6 246.6h1v1h-1zM216.4 236.7h1v1h-1zM219.1 242.8h1v1h-1zM213.1 233.0h1v1h-1zM212.4 236.2h1v1h-1zM217.4 245.5h1v1h-1zM214.1 238.2h1v1h-1zM220.1 238.2h1v1h-1zM214.9 239.4h1v1h-1zM213.9 233.5h1v1h-1zM216.4 235.8h1v1h-1zM217.6 239.2h1v1h-1zM215.6 236.8h1v1h-1zM213.8 239.2h1v1h-1zM215.3 241.2h1v1h-1zM218.9 248.0h1v1h-1zM215.7 230.4h1v1h-1zM214.7 236.8h1v1h-1zM216.1 244.2h1v1h-1zM214.9 235.3h1v1h-1zM213.7 235.9h1v1h-1zM214.5 243.7h1v1h-1zM211.2 242.3h1v1h-1zM215.7 241.6h1v1h-1zM212.7 241.2h1v1h-1zM210.9 240.7h1v1h-1zM217.0 242.7h1v1h-1zM212.5 232.1h1v1h-1zM213.5 237.8h1v1h-1zM212.0 241.6h1v1h-1zM216.4 238.1h1v1h-1zM211.2 240.0h1v1h-1zM215.1 236.8h1v1h-1zM218.4 241.0h1v1h-1zM218.9 243.1h1v1h-1zM217.0 242.2h1v1h-1zM215.6 234.9h1v1h-1zM215.0 237.0h1v1h-1zM215.9 241.9h1v1h-1zM213.9 236.6h1v1h-1zM214.6 239.3h1v1h-1zM216.0 235.9h1v1h-1zM212.9 239.2h1v1h-1zM215.9 238.9h1v1h-1zM216.4 232.0h1v1h-1zM213.2 245.7h1v1h-1zM215.3 242.9h1v1h-1zM215.9 248.3h1v1h-1zM214.1 238.5h1v1h-1zM215.0 246.8h1v1h-1zM214.6 241.2h1v1h-1zM214.9 238.8h1v1h-1z" fill="#000" fill-opacity="0.45"/><path d="M216.9 234.1h1v1h-1zM216.0 240.9h1v1h-1zM215.8 236.8h1v1h-1zM213.7 239.3h1v1h-1zM212.7 245.7h1v1h-1zM212.8 238.2h1v1h-1zM214.9 232.0h1v1h-1zM213.8 231.4h1v1h-1zM214.7 232.5h1v1h-1zM215.3 232.2h1v1h-1zM211.9 233.5h1v1h-1zM215.7 247.2h1v1h-1zM213.3 235.7h1v1h-1zM216.1 231.7h1v1h-1zM216.6 233.2h1v1h-1zM211.8 239.7h1v1h-1zM212.8 237.0h1v1h-1zM213.7 238.1h1v1h-1zM210.6 229.2h1v1h-1zM211.5 235.2h1v1h-1zM212.6 238.8h1v1h-1zM215.3 241.7h1v1h-1zM218.8 237.0h1v1h-1zM216.2 244.2h1v1h-1zM218.1 241.2h1v1h-1zM216.8 246.5h1v1h-1zM217.5 239.2h1v1h-1zM218.1 247.5h1v1h-1zM217.3 241.6h1v1h-1zM210.2 240.6h1v1h-1zM218.4 231.8h1v1h-1zM214.4 239.3h1v1h-1zM214.3 241.8h1v1h-1zM215.2 236.3h1v1h-1zM215.0 234.0h1v1h-1zM222.0 242.0h1v1h-1zM216.3 237.5h1v1h-1zM215.3 241.5h1v1h-1zM212.5 238.6h1v1h-1zM217.2 237.8h1v1h-1zM214.6 234.5h1v1h-1zM216.4 243.3h1v1h-1zM218.3 241.0h1v1h-1zM213.8 245.3h1v1h-1zM217.4 237.5h1v1h-1zM216.6 236.4h1v1h-1zM215.3 238.2h1v1h-1zM212.4 235.2h1v1h-1zM211.8 240.3h1v1h-1zM216.9 240.1h1v1h-1zM213.5 241.2h1v1h-1zM217.3 233.0h1v1h-1zM215.7 238.4h1v1h-1zM214.9 237.1h1v1h-1zM216.0 240.1h1v1h-1zM215.2 243.7h1v1h-1zM211.3 248.3h1v1h-1zM215.5 241.3h1v1h-1zM216.9 237.4h1v1h-1zM210.8 240.2h1v1h-1zM213.6 239.4h1v1h-1zM217.0 231.7h1v1h-1zM213.7 244.0h1v1h-1zM215.8 233.3h1v1h-1zM217.9 237.3h1v1h-1zM213.1 235.3h1v1h-1zM214.7 238.9h1v1h-1zM213.2 238.3h1v1h-1zM215.2 235.3h1v1h-1zM212.4 234.8h1v1h-1z" fill="#000" fill-opacity="0.50"/><path d="M214.9 239.3h1v1h-1zM216.4 234.7h1v1h-1zM214.2 242.7h1v1h-1zM217.3 237.7h1v1h-1zM214.0 237.4h1v1h-1zM217.2 231.6h1v1h-1zM215.4 239.4h1v1h-1zM212.3 247.5h1v1h-1zM217.7 234.0h1v1h-1zM212.1 236.6h1v1h-1zM213.8 233.8h1v1h-1zM216.9 242.8h1v1h-1zM211.7 244.0h1v1h-1zM215.3 238.7h1v1h-1zM212.3 229.3h1v1h-1zM215.7 243.8h1v1h-1zM217.2 234.4h1v1h-1zM215.8 238.1h1v1h-1zM214.7 240.7h1v1h-1zM215.2 239.5h1v1h-1z" fill="#000" fill-opacity="0.55"/></g>
<text x="224.00" y="195.30" font-size="8.1" text-anchor="end" font-weight="bold" >3.93%</text>
<text x="231.20" y="255.20" font-size="8.1" text-anchor="end" font-weight="bold" >96.07%</text>
<line x1="265.50" y1="184.50" x2="337.50" y2="184.50" stroke="#a2a2a2" stroke-width="1"/>
<line x1="337.50" y1="184.50" x2="337.50" y2="256.50" stroke="#929292" stroke-width="1"/>
<line x1="265.50" y1="184.00" x2="265.50" y2="257.00" stroke="#5a5a5a" stroke-width="1"/>
<line x1="265.50" y1="256.50" x2="338.00" y2="256.50" stroke="#5a5a5a" stroke-width="1"/>
<line x1="265.50" y1="222.50" x2="337.50" y2="222.50" stroke="#6a6a6a" stroke-width="1"/>
<line x1="308.50" y1="184.50" x2="308.50" y2="256.50" stroke="#6a6a6a" stroke-width="1"/>
<line x1="262.00" y1="185.70" x2="263.70" y2="184.30" stroke="#aaa" stroke-width="0.7"/>
<line x1="262.00" y1="203.70" x2="263.70" y2="202.30" stroke="#aaa" stroke-width="0.7"/>
<line x1="262.00" y1="221.70" x2="263.70" y2="220.30" stroke="#aaa" stroke-width="0.7"/>
<line x1="262.00" y1="239.70" x2="263.70" y2="238.30" stroke="#aaa" stroke-width="0.7"/>
<line x1="282.50" y1="260.20" x2="283.50" y2="259.00" stroke="#aaa" stroke-width="0.7"/>
<line x1="300.50" y1="260.20" x2="301.50" y2="259.00" stroke="#aaa" stroke-width="0.7"/>
<line x1="318.50" y1="260.20" x2="319.50" y2="259.00" stroke="#aaa" stroke-width="0.7"/>
<line x1="336.50" y1="260.20" x2="337.50" y2="259.00" stroke="#aaa" stroke-width="0.7"/>
<g filter="url(#bl)"><path d="M322.7 209.1h1v1h-1z" fill="#000" fill-opacity="0.05"/><path d="M320.3 218.1h1v1h-1zM318.4 218.0h1v1h-1zM321.2 204.5h1v1h-1zM319.9 210.4h1v1h-1zM321.1 212.4h1v1h-1zM324.4 201.1h1v1h-1zM321.5 219.8h1v1h-1zM323.0 203.5h1v1h-1zM317.0 221.1h1v1h-1zM318.4 213.9h1v1h-1zM322.1 206.9h1v1h-1zM320.2 212.0h1v1h-1zM323.4 201.6h1v1h-1zM319.8 211.2h1v1h-1zM323.1 212.5h1v1h-1zM320.3 211.7h1v1h-1zM323.4 201.3h1v1h-1zM323.2 216.8h1v1h-1zM321.1 199.3h1v1h-1zM323.4 215.6h1v1h-1zM320.9 205.7h1v1h-1zM322.8 214.9h1v1h-1zM316.4 206.9h1v1h-1zM324.1 210.5h1v1h-1zM318.8 214.6h1v1h-1z" fill="#000" fill-opacity="0.10"/><path d="M322.1 210.8h1v1h-1zM319.0 205.8h1v1h-1zM317.9 214.6h1v1h-1zM316.6 205.8h1v1h-1zM320.4 214.6h1v1h-1zM321.1 201.0h1v1h-1zM319.6 208.6h1v1h-1zM321.0 219.5h1v1h-1zM319.7 210.3h1v1h-1zM321.7 201.6h1v1h-1zM318.1 221.1h1v1h-1zM324.9 204.4h1v1h-1zM319.8 215.3h1v1h-1zM316.9 219.4h1v1h-1zM320.8 214.5h1v1h-1zM321.9 218.3h1v1h-1zM322.2 203.3h1v1h-1zM318.2 219.1h1v1h-1zM322.0 218.4h1v1h-1z" fill="#000" fill-opacity="0.15"/><path d="M318.7 202.9h1v1h-1zM319.5 207.5h1v1h-1zM318.1 212.0h1v1h-1zM317.2 219.8h1v1h-1zM323.8 218.3h1v1h-1zM318.9 217.1h1v1h-1zM318.5 206.8h1v1h-1zM315.7 206.4h1v1h-1zM322.5 209.1h1v1h-1zM316.3 221.8h1v1h-1zM317.0 220.1h1v1h-1zM322.0 202.9h1v1h-1zM318.7 214.7h1v1h-1zM319.6 201.8h1v1h-1zM323.3 212.9h1v1h-1zM323.9 201.6h1v1h-1zM323.3 201.6h1v1h-1zM319.1 203.2h1v1h-1zM322.7 231.1h1v1h-1zM320.4 230.6h1v1h-1zM320.5 238.4h1v1h-1zM320.1 238.7h1v1h-1zM320.6 240.7h1v1h-1zM323.9 248.3h1v1h-1zM318.9 237.5h1v1h-1zM325.6 239.5h1v1h-1zM323.6 240.7h1v1h-1zM320.5 224.0h1v1h-1zM322.2 238.3h1v1h-1zM316.6 230.3h1v1h-1z" fill="#000" fill-opacity="0.20"/><path d="M322.1 214.8h1v1h-1zM321.8 218.9h1v1h-1zM318.4 241.4h1v1h-1zM320.8 233.9h1v1h-1zM327.0 243.5h1v1h-1zM318.9 235.0h1v1h-1zM321.1 236.2h1v1h-1zM320.4 233.3h1v1h-1zM321.1 239.7h1v1h-1zM322.5 234.0h1v1h-1zM317.3 242.6h1v1h-1zM322.7 240.7h1v1h-1zM320.7 235.3h1v1h-1zM321.2 236.7h1v1h-1zM328.2 229.5h1v1h-1zM322.4 222.5h1v1h-1zM319.7 224.2h1v1h-1zM323.3 236.3h1v1h-1zM319.0 237.9h1v1h-1zM322.4 235.8h1v1h-1zM320.2 244.0h1v1h-1zM322.3 228.8h1v1h-1zM316.1 238.4h1v1h-1zM317.5 245.3h1v1h-1zM321.2 228.8h1v1h-1zM322.6 229.1h1v1h-1zM320.3 241.4h1v1h-1zM320.3 236.3h1v1h-1zM321.6 230.6h1v1h-1zM317.3 247.2h1v1h-1zM320.9 234.6h1v1h-1zM324.8 232.4h1v1h-1zM322.5 239.5h1v1h-1zM323.8 234.0h1v1h-1zM323.7 239.6h1v1h-1zM319.2 234.2h1v1h-1zM323.6 236.8h1v1h-1zM321.7 242.7h1v1h-1zM322.3 242.8h1v1h-1zM320.0 233.6h1v1h-1zM318.8 240.5h1v1h-1zM322.7 246.1h1v1h-1zM321.6 227.8h1v1h-1zM321.3 229.6h1v1h-1zM322.1 232.1h1v1h-1zM317.4 241.7h1v1h-1zM319.1 234.3h1v1h-1zM322.8 242.3h1v1h-1zM322.6 234.7h1v1h-1zM320.1 246.3h1v1h-1zM321.2 233.2h1v1h-1zM323.4 229.2h1v1h-1zM325.3 236.7h1v1h-1zM318.8 231.7h1v1h-1zM319.6 246.4h1v1h-1zM322.1 232.9h1v1h-1zM321.1 239.1h1v1h-1zM321.0 233.2h1v1h-1zM317.8 232.4h1v1h-1z" fill="#000" fill-opacity="0.25"/><path d="M317.1 245.4h1v1h-1zM318.6 240.2h1v1h-1zM318.3 236.1h1v1h-1zM321.2 238.2h1v1h-1zM315.4 234.2h1v1h-1zM317.6 244.6h1v1h-1zM319.5 233.5h1v1h-1zM321.7 230.7h1v1h-1zM318.3 229.5h1v1h-1zM325.3 241.6h1v1h-1zM321.7 226.7h1v1h-1zM318.5 237.6h1v1h-1zM321.7 243.7h1v1h-1zM320.1 232.4h1v1h-1zM323.4 235.0h1v1h-1zM319.2 237.7h1v1h-1zM323.4 239.0h1v1h-1zM323.7 232.6h1v1h-1zM318.7 224.5h1v1h-1zM320.0 230.9h1v1h-1zM323.9 228.4h1v1h-1zM323.9 236.9h1v1h-1zM321.2 228.5h1v1h-1zM321.7 238.1h1v1h-1zM321.6 230.1h1v1h-1zM320.7 234.6h1v1h-1zM318.6 236.8h1v1h-1zM321.7 228.4h1v1h-1zM322.3 242.0h1v1h-1zM322.3 237.2h1v1h-1zM318.5 237.2h1v1h-1zM320.1 239.8h1v1h-1zM324.9 237.3h1v1h-1zM321.1 238.6h1v1h-1zM322.1 246.1h1v1h-1zM319.5 242.5h1v1h-1zM321.4 238.4h1v1h-1zM317.7 244.9h1v1h-1zM320.5 234.4h1v1h-1zM324.1 240.2h1v1h-1zM320.4 230.4h1v1h-1zM323.1 229.6h1v1h-1zM320.3 235.0h1v1h-1zM320.3 237.9h1v1h-1zM322.2 232.3h1v1h-1zM318.1 231.6h1v1h-1zM322.5 233.3h1v1h-1zM318.1 240.3h1v1h-1zM319.6 237.2h1v1h-1zM320.0 241.2h1v1h-1zM316.0 233.4h1v1h-1zM319.0 240.9h1v1h-1zM319.8 241.9h1v1h-1zM321.9 241.3h1v1h-1zM322.4 234.6h1v1h-1zM320.1 234.1h1v1h-1zM319.8 228.5h1v1h-1zM319.5 246.0h1v1h-1z" fill="#000" fill-opacity="0.30"/><path d="M323.2 231.0h1v1h-1zM320.7 236.5h1v1h-1zM320.4 240.4h1v1h-1zM325.0 241.2h1v1h-1zM319.6 237.5h1v1h-1zM319.4 237.8h1v1h-1zM319.9 231.5h1v1h-1zM326.2 232.7h1v1h-1zM324.2 238.4h1v1h-1zM317.7 241.6h1v1h-1zM322.6 224.8h1v1h-1zM321.2 236.1h1v1h-1zM321.5 242.3h1v1h-1zM320.3 236.9h1v1h-1zM318.5 232.1h1v1h-1zM320.5 234.9h1v1h-1zM319.0 247.1h1v1h-1zM323.2 239.9h1v1h-1zM319.9 233.5h1v1h-1zM318.9 241.4h1v1h-1zM324.1 231.7h1v1h-1zM324.3 244.4h1v1h-1zM319.2 248.4h1v1h-1zM320.8 225.5h1v1h-1zM320.2 240.6h1v1h-1zM319.3 240.4h1v1h-1zM318.9 237.6h1v1h-1zM319.4 229.4h1v1h-1zM322.5 231.7h1v1h-1zM323.2 230.1h1v1h-1zM323.7 240.8h1v1h-1zM318.2 239.9h1v1h-1zM322.1 223.9h1v1h-1zM319.1 237.4h1v1h-1zM322.7 232.5h1v1h-1zM321.8 248.7h1v1h-1zM316.9 224.7h1v1h-1zM321.2 239.6h1v1h-1zM322.5 225.7h1v1h-1zM324.4 229.5h1v1h-1zM320.4 238.0h1v1h-1zM318.4 241.0h1v1h-1zM321.3 233.9h1v1h-1zM321.5 231.9h1v1h-1zM325.4 236.3h1v1h-1zM322.1 224.6h1v1h-1zM320.3 237.5h1v1h-1zM322.9 238.8h1v1h-1zM318.4 237.3h1v1h-1zM318.0 238.2h1v1h-1zM326.7 230.7h1v1h-1zM322.4 236.0h1v1h-1zM318.7 246.3h1v1h-1zM320.8 235.7h1v1h-1zM323.0 228.1h1v1h-1zM316.4 241.3h1v1h-1zM320.7 230.2h1v1h-1zM321.5 230.2h1v1h-1zM318.5 226.4h1v1h-1z" fill="#000" fill-opacity="0.35"/><path d="M321.8 240.1h1v1h-1zM321.8 231.5h1v1h-1zM324.3 239.3h1v1h-1zM320.5 225.0h1v1h-1zM321.5 240.2h1v1h-1zM317.0 241.6h1v1h-1zM320.1 224.7h1v1h-1zM321.7 236.7h1v1h-1zM322.1 230.0h1v1h-1zM321.4 228.5h1v1h-1zM320.6 240.0h1v1h-1zM321.9 237.8h1v1h-1zM320.2 237.9h1v1h-1zM324.3 238.5h1v1h-1zM319.5 238.8h1v1h-1zM320.1 238.5h1v1h-1zM321.5 238.6h1v1h-1zM319.3 233.6h1v1h-1zM324.0 236.4h1v1h-1zM321.1 227.1h1v1h-1zM319.2 241.4h1v1h-1zM318.2 226.2h1v1h-1zM320.6 233.7h1v1h-1zM321.0 229.7h1v1h-1zM317.2 231.3h1v1h-1zM320.3 229.2h1v1h-1zM323.7 241.0h1v1h-1zM320.0 238.7h1v1h-1zM319.2 246.4h1v1h-1zM318.0 231.8h1v1h-1zM323.0 237.1h1v1h-1zM320.9 233.6h1v1h-1zM320.4 249.0h1v1h-1zM321.0 241.4h1v1h-1zM320.6 236.9h1v1h-1zM321.8 231.1h1v1h-1zM320.5 225.1h1v1h-1zM319.7 233.8h1v1h-1zM324.7 225.2h1v1h-1zM322.6 233.2h1v1h-1zM316.1 238.0h1v1h-1zM320.1 232.8h1v1h-1zM319.6 244.6h1v1h-1zM317.0 237.8h1v1h-1zM321.6 239.7h1v1h-1zM319.8 245.5h1v1h-1zM324.9 235.6h1v1h-1zM318.5 239.6h1v1h-1zM323.9 233.1h1v1h-1zM318.5 231.2h1v1h-1zM318.8 233.7h1v1h-1zM317.5 226.5h1v1h-1zM321.7 238.3h1v1h-1zM316.7 239.7h1v1h-1zM317.1 240.1h1v1h-1zM317.4 228.4h1v1h-1z" fill="#000" fill-opacity="0.40"/><path d="M322.5 233.4h1v1h-1zM317.9 230.3h1v1h-1zM320.5 226.8h1v1h-1zM322.2 244.8h1v1h-1zM322.0 226.6h1v1h-1zM323.8 229.0h1v1h-1zM319.6 245.0h1v1h-1zM322.3 231.5h1v1h-1zM323.7 234.2h1v1h-1zM324.5 223.8h1v1h-1zM320.7 232.2h1v1h-1zM319.3 239.9h1v1h-1zM319.8 238.1h1v1h-1zM321.7 240.3h1v1h-1zM321.0 239.9h1v1h-1zM320.0 228.2h1v1h-1zM322.0 236.5h1v1h-1zM320.3 245.8h1v1h-1zM321.2 228.0h1v1h-1zM322.3 235.8h1v1h-1zM322.4 226.9h1v1h-1zM324.5 226.9h1v1h-1zM321.9 240.1h1v1h-1zM317.8 242.8h1v1h-1zM320.4 235.1h1v1h-1zM323.0 233.0h1v1h-1zM318.8 240.4h1v1h-1zM320.7 234.0h1v1h-1zM323.2 239.1h1v1h-1zM320.6 235.6h1v1h-1zM321.0 246.5h1v1h-1zM319.2 243.6h1v1h-1zM320.1 234.2h1v1h-1zM320.2 241.1h1v1h-1zM319.9 240.7h1v1h-1zM320.7 236.3h1v1h-1zM323.9 236.3h1v1h-1zM321.6 237.7h1v1h-1zM323.5 243.2h1v1h-1zM318.3 244.0h1v1h-1zM317.2 240.4h1v1h-1zM319.3 236.6h1v1h-1zM323.5 236.1h1v1h-1zM322.1 243.2h1v1h-1zM323.8 231.1h1v1h-1zM320.9 238.5h1v1h-1zM322.8 227.0h1v1h-1zM318.6 242.1h1v1h-1zM323.0 229.8h1v1h-1zM323.3 235.5h1v1h-1zM317.7 231.5h1v1h-1zM318.3 228.1h1v1h-1zM317.7 230.8h1v1h-1zM320.6 239.3h1v1h-1zM320.5 244.0h1v1h-1zM319.3 233.7h1v1h-1zM318.1 243.9h1v1h-1zM319.1 244.6h1v1h-1zM319.8 240.7h1v1h-1z" fill="#000" fill-opacity="0.45"/><path d="M320.1 233.5h1v1h-1zM322.7 228.0h1v1h-1zM319.3 236.3h1v1h-1zM316.8 232.8h1v1h-1zM319.7 241.3h1v1h-1zM318.4 227.2h1v1h-1zM320.6 228.5h1v1h-1zM320.8 230.4h1v1h-1zM321.4 227.2h1v1h-1zM321.9 240.4h1v1h-1zM318.4 235.7h1v1h-1zM323.7 245.6h1v1h-1zM317.8 238.7h1v1h-1zM320.4 238.4h1v1h-1zM319.0 234.2h1v1h-1zM318.0 245.8h1v1h-1zM320.0 240.2h1v1h-1zM319.2 236.6h1v1h-1zM319.5 241.4h1v1h-1z" fill="#000" fill-opacity="0.50"/></g>
<text x="338.10" y="194.10" font-size="8.1" text-anchor="end" font-weight="bold" >5.78%</text>
<text x="338.10" y="254.60" font-size="8.1" text-anchor="end" font-weight="bold" >94.22%</text>
<line x1="345.50" y1="184.50" x2="417.50" y2="184.50" stroke="#a2a2a2" stroke-width="1"/>
<line x1="417.50" y1="184.50" x2="417.50" y2="256.50" stroke="#929292" stroke-width="1"/>
<line x1="345.50" y1="184.00" x2="345.50" y2="257.00" stroke="#5a5a5a" stroke-width="1"/>
<line x1="345.50" y1="256.50" x2="418.00" y2="256.50" stroke="#5a5a5a" stroke-width="1"/>
<line x1="345.50" y1="222.50" x2="417.50" y2="222.50" stroke="#6a6a6a" stroke-width="1"/>
<line x1="388.50" y1="184.50" x2="388.50" y2="256.50" stroke="#6a6a6a" stroke-width="1"/>
<line x1="342.00" y1="185.70" x2="343.70" y2="184.30" stroke="#aaa" stroke-width="0.7"/>
<line x1="342.00" y1="203.70" x2="343.70" y2="202.30" stroke="#aaa" stroke-width="0.7"/>
<line x1="342.00" y1="221.70" x2="343.70" y2="220.30" stroke="#aaa" stroke-width="0.7"/>
<line x1="342.00" y1="239.70" x2="343.70" y2="238.30" stroke="#aaa" stroke-width="0.7"/>
<line x1="362.50" y1="260.20" x2="363.50" y2="259.00" stroke="#aaa" stroke-width="0.7"/>
<line x1="380.50" y1="260.20" x2="381.50" y2="259.00" stroke="#aaa" stroke-width="0.7"/>
<line x1="398.50" y1="260.20" x2="399.50" y2="259.00" stroke="#aaa" stroke-width="0.7"/>
<line x1="416.50" y1="260.20" x2="417.50" y2="259.00" stroke="#aaa" stroke-width="0.7"/>
<g filter="url(#bl)"><path d="M395.4 221.3h1v1h-1z" fill="#000" fill-opacity="0.05"/><path d="M400.1 216.0h1v1h-1zM398.2 205.2h1v1h-1zM400.5 208.9h1v1h-1zM401.2 218.4h1v1h-1zM403.5 216.6h1v1h-1zM398.9 206.5h1v1h-1zM399.6 204.7h1v1h-1zM397.9 215.3h1v1h-1zM400.4 214.5h1v1h-1zM405.7 212.6h1v1h-1zM397.3 212.2h1v1h-1zM395.3 210.2h1v1h-1zM400.7 213.3h1v1h-1zM398.5 207.6h1v1h-1zM400.2 221.8h1v1h-1zM401.2 218.5h1v1h-1zM396.2 206.3h1v1h-1zM397.2 214.1h1v1h-1z" fill="#000" fill-opacity="0.10"/><path d="M400.4 213.6h1v1h-1zM401.3 213.0h1v1h-1zM395.9 211.3h1v1h-1zM401.6 208.9h1v1h-1zM395.2 206.7h1v1h-1zM399.0 217.4h1v1h-1zM400.0 215.7h1v1h-1zM398.0 216.7h1v1h-1zM402.2 209.0h1v1h-1zM401.2 204.1h1v1h-1zM399.9 214.0h1v1h-1zM397.3 210.0h1v1h-1zM398.2 207.8h1v1h-1zM398.4 218.6h1v1h-1zM398.9 204.5h1v1h-1zM402.4 211.6h1v1h-1zM397.4 213.2h1v1h-1zM398.0 221.9h1v1h-1zM398.7 211.3h1v1h-1zM397.4 214.1h1v1h-1zM392.7 217.0h1v1h-1zM399.1 205.1h1v1h-1zM399.4 217.0h1v1h-1zM398.0 208.7h1v1h-1zM400.2 205.8h1v1h-1zM399.8 220.4h1v1h-1z" fill="#000" fill-opacity="0.15"/><path d="M393.4 217.6h1v1h-1zM402.2 208.0h1v1h-1zM398.9 221.5h1v1h-1zM400.1 204.8h1v1h-1zM399.9 212.5h1v1h-1zM400.6 231.0h1v1h-1zM403.4 236.3h1v1h-1zM403.3 235.2h1v1h-1zM403.4 233.3h1v1h-1zM400.3 238.4h1v1h-1zM397.9 234.0h1v1h-1zM399.5 238.8h1v1h-1zM398.3 228.7h1v1h-1zM400.8 236.2h1v1h-1zM402.7 240.5h1v1h-1z" fill="#000" fill-opacity="0.20"/><path d="M401.6 233.6h1v1h-1zM399.1 233.4h1v1h-1zM399.4 238.5h1v1h-1zM400.0 226.4h1v1h-1zM403.6 234.9h1v1h-1zM401.4 245.6h1v1h-1zM400.2 236.4h1v1h-1zM402.1 227.5h1v1h-1zM398.2 237.7h1v1h-1zM396.3 238.1h1v1h-1zM400.7 226.9h1v1h-1zM398.7 236.0h1v1h-1zM400.8 234.5h1v1h-1zM399.3 243.4h1v1h-1zM396.0 240.1h1v1h-1zM402.1 227.4h1v1h-1zM396.9 237.6h1v1h-1zM401.7 238.7h1v1h-1zM400.3 240.8h1v1h-1zM402.3 238.7h1v1h-1zM397.5 226.7h1v1h-1zM400.3 241.9h1v1h-1zM403.5 246.8h1v1h-1zM399.3 241.9h1v1h-1zM397.0 240.6h1v1h-1zM400.3 233.6h1v1h-1zM403.0 237.8h1v1h-1zM398.5 229.6h1v1h-1zM398.1 241.8h1v1h-1zM400.0 237.6h1v1h-1zM400.0 241.8h1v1h-1zM396.6 239.4h1v1h-1zM402.9 232.9h1v1h-1zM399.5 234.6h1v1h-1zM398.4 241.0h1v1h-1zM399.1 236.9h1v1h-1zM398.9 243.6h1v1h-1zM398.8 234.9h1v1h-1zM401.7 226.9h1v1h-1zM400.1 236.1h1v1h-1zM400.6 237.9h1v1h-1zM398.7 246.6h1v1h-1zM398.1 241.6h1v1h-1zM403.1 245.3h1v1h-1zM402.9 232.2h1v1h-1zM398.7 227.3h1v1h-1zM397.8 241.0h1v1h-1z" fill="#000" fill-opacity="0.25"/><path d="M400.6 234.0h1v1h-1zM399.3 236.9h1v1h-1zM399.1 228.3h1v1h-1zM399.4 237.0h1v1h-1zM401.4 235.3h1v1h-1zM397.1 244.7h1v1h-1zM398.4 234.4h1v1h-1zM401.5 225.7h1v1h-1zM400.0 234.4h1v1h-1zM400.0 225.9h1v1h-1zM399.6 232.0h1v1h-1zM403.4 237.1h1v1h-1zM401.2 232.1h1v1h-1zM400.3 238.6h1v1h-1zM396.7 236.3h1v1h-1zM398.2 229.5h1v1h-1zM400.4 232.4h1v1h-1zM401.0 233.0h1v1h-1zM404.7 233.5h1v1h-1zM398.5 245.6h1v1h-1zM403.5 236.9h1v1h-1zM400.2 241.8h1v1h-1zM398.0 238.5h1v1h-1zM400.2 239.9h1v1h-1zM402.0 233.6h1v1h-1zM400.8 239.3h1v1h-1zM397.5 236.1h1v1h-1zM396.1 235.8h1v1h-1zM399.3 239.4h1v1h-1zM397.6 225.0h1v1h-1zM405.0 238.6h1v1h-1zM398.9 235.8h1v1h-1zM399.6 238.0h1v1h-1zM396.1 245.5h1v1h-1zM399.9 233.7h1v1h-1zM399.9 235.0h1v1h-1zM404.2 235.5h1v1h-1zM400.1 231.2h1v1h-1zM398.3 237.0h1v1h-1zM402.1 229.8h1v1h-1zM396.7 239.8h1v1h-1zM401.8 242.7h1v1h-1zM401.2 236.3h1v1h-1zM399.1 246.1h1v1h-1zM401.5 231.6h1v1h-1zM398.8 234.6h1v1h-1zM400.8 228.8h1v1h-1zM400.6 239.4h1v1h-1zM400.2 233.5h1v1h-1zM402.6 228.9h1v1h-1zM402.9 239.2h1v1h-1zM404.0 237.1h1v1h-1zM402.1 228.3h1v1h-1zM398.7 228.1h1v1h-1zM399.3 240.6h1v1h-1zM402.6 233.4h1v1h-1zM399.9 227.2h1v1h-1zM398.1 234.0h1v1h-1zM400.9 244.8h1v1h-1zM400.0 233.7h1v1h-1zM403.5 239.1h1v1h-1zM400.7 237.4h1v1h-1zM401.6 242.4h1v1h-1zM398.1 243.9h1v1h-1zM398.8 234.6h1v1h-1zM396.8 240.7h1v1h-1zM399.4 239.9h1v1h-1zM400.0 236.7h1v1h-1z" fill="#000" fill-opacity="0.30"/><path d="M405.3 238.1h1v1h-1zM397.0 236.0h1v1h-1zM399.9 230.7h1v1h-1zM401.8 236.9h1v1h-1zM398.0 237.7h1v1h-1zM399.6 241.2h1v1h-1zM395.4 242.3h1v1h-1zM397.4 238.8h1v1h-1zM401.6 236.7h1v1h-1zM400.0 233.5h1v1h-1zM401.7 242.5h1v1h-1zM400.6 233.7h1v1h-1zM403.7 226.1h1v1h-1zM404.2 244.4h1v1h-1zM400.0 235.3h1v1h-1zM400.5 236.8h1v1h-1zM402.3 237.2h1v1h-1zM407.5 243.1h1v1h-1zM402.2 236.2h1v1h-1zM401.8 240.9h1v1h-1zM402.3 240.2h1v1h-1zM398.5 240.5h1v1h-1zM399.8 235.2h1v1h-1zM400.3 233.7h1v1h-1zM401.3 232.5h1v1h-1zM401.3 240.8h1v1h-1zM398.9 234.1h1v1h-1zM401.1 230.6h1v1h-1zM399.1 240.6h1v1h-1zM399.8 232.4h1v1h-1zM401.7 231.4h1v1h-1zM401.6 243.4h1v1h-1zM401.0 238.9h1v1h-1zM402.1 236.2h1v1h-1zM401.6 241.4h1v1h-1zM402.4 230.7h1v1h-1zM400.9 240.2h1v1h-1zM400.0 233.3h1v1h-1zM401.1 233.5h1v1h-1zM403.4 239.4h1v1h-1zM400.0 242.9h1v1h-1zM399.3 239.6h1v1h-1zM401.7 239.5h1v1h-1zM400.6 244.7h1v1h-1zM401.7 229.2h1v1h-1zM396.9 228.5h1v1h-1zM398.0 227.5h1v1h-1zM400.4 234.3h1v1h-1zM400.4 236.8h1v1h-1zM399.9 230.9h1v1h-1zM401.1 236.1h1v1h-1z" fill="#000" fill-opacity="0.35"/><path d="M404.3 236.3h1v1h-1zM397.4 234.9h1v1h-1zM397.6 234.7h1v1h-1zM400.2 241.4h1v1h-1zM400.9 236.2h1v1h-1zM400.2 226.9h1v1h-1zM404.3 237.4h1v1h-1zM397.2 230.8h1v1h-1zM400.1 239.7h1v1h-1zM400.9 235.2h1v1h-1zM397.7 232.6h1v1h-1zM403.3 231.9h1v1h-1zM402.0 241.3h1v1h-1zM400.8 229.9h1v1h-1zM401.3 241.7h1v1h-1zM401.2 228.6h1v1h-1zM400.5 236.4h1v1h-1zM397.9 231.8h1v1h-1zM399.4 237.1h1v1h-1zM399.6 239.2h1v1h-1zM398.6 240.1h1v1h-1zM402.0 238.8h1v1h-1zM400.3 236.9h1v1h-1zM400.0 228.9h1v1h-1zM401.0 238.8h1v1h-1zM401.0 232.2h1v1h-1zM400.0 236.5h1v1h-1zM402.3 226.6h1v1h-1zM397.0 242.4h1v1h-1zM398.9 238.6h1v1h-1zM397.0 227.6h1v1h-1zM399.8 233.6h1v1h-1zM398.3 240.0h1v1h-1zM396.5 237.4h1v1h-1zM401.5 247.0h1v1h-1zM400.2 243.4h1v1h-1zM401.6 237.1h1v1h-1zM400.5 238.4h1v1h-1zM400.4 239.6h1v1h-1zM399.3 233.4h1v1h-1zM399.5 236.3h1v1h-1zM401.6 237.3h1v1h-1zM401.7 237.9h1v1h-1zM396.3 237.9h1v1h-1zM400.5 227.8h1v1h-1zM401.2 239.4h1v1h-1zM396.9 234.4h1v1h-1zM399.5 236.3h1v1h-1zM403.4 226.4h1v1h-1zM401.7 238.4h1v1h-1zM403.0 227.5h1v1h-1zM400.7 238.1h1v1h-1zM403.8 227.3h1v1h-1zM398.8 231.5h1v1h-1zM400.8 231.5h1v1h-1zM399.3 230.2h1v1h-1zM398.6 242.5h1v1h-1zM399.0 235.6h1v1h-1zM400.7 235.4h1v1h-1zM401.8 236.0h1v1h-1zM398.8 232.4h1v1h-1z" fill="#000" fill-opacity="0.40"/><path d="M399.8 231.2h1v1h-1zM403.8 243.7h1v1h-1zM399.4 237.1h1v1h-1zM398.9 244.6h1v1h-1zM401.4 235.0h1v1h-1zM400.6 237.8h1v1h-1zM399.1 245.9h1v1h-1zM401.5 228.5h1v1h-1zM399.5 235.0h1v1h-1zM402.8 240.7h1v1h-1zM403.0 230.9h1v1h-1zM402.9 238.7h1v1h-1zM400.4 228.2h1v1h-1zM399.9 241.1h1v1h-1zM400.7 245.4h1v1h-1zM401.3 228.6h1v1h-1zM400.3 230.6h1v1h-1zM399.8 247.0h1v1h-1zM401.2 241.8h1v1h-1zM403.5 245.6h1v1h-1zM400.1 245.1h1v1h-1zM402.9 242.7h1v1h-1zM399.7 236.1h1v1h-1zM399.0 233.7h1v1h-1zM397.8 232.4h1v1h-1zM400.3 228.0h1v1h-1zM399.2 237.8h1v1h-1zM402.3 240.8h1v1h-1zM397.6 239.8h1v1h-1zM399.5 238.6h1v1h-1zM397.4 233.7h1v1h-1zM399.9 233.3h1v1h-1zM401.6 232.3h1v1h-1zM400.9 238.4h1v1h-1zM401.1 240.8h1v1h-1zM399.5 231.6h1v1h-1zM402.2 245.4h1v1h-1zM398.1 231.4h1v1h-1zM400.2 230.7h1v1h-1zM403.3 238.1h1v1h-1zM398.6 240.1h1v1h-1zM397.4 246.2h1v1h-1z" fill="#000" fill-opacity="0.45"/><path d="M399.1 242.1h1v1h-1zM400.3 235.5h1v1h-1zM398.3 232.2h1v1h-1zM402.6 233.3h1v1h-1zM401.5 237.6h1v1h-1zM399.3 242.7h1v1h-1zM401.6 235.4h1v1h-1zM401.1 230.6h1v1h-1zM403.2 230.4h1v1h-1zM404.1 238.7h1v1h-1zM403.9 245.2h1v1h-1z" fill="#000" fill-opacity="0.50"/></g>
<text x="416.20" y="192.90" font-size="8.1" text-anchor="end" font-weight="bold" >6.16%</text>
<text x="418.80" y="253.60" font-size="8.1" text-anchor="end" font-weight="bold" >93.84%</text>
<line x1="81.50" y1="272.50" x2="153.50" y2="272.50" stroke="#a2a2a2" stroke-width="1"/>
<line x1="153.50" y1="272.50" x2="153.50" y2="344.50" stroke="#929292" stroke-width="1"/>
<line x1="81.50" y1="272.00" x2="81.50" y2="345.00" stroke="#5a5a5a" stroke-width="1"/>
<line x1="81.50" y1="344.50" x2="154.00" y2="344.50" stroke="#5a5a5a" stroke-width="1"/>
<line x1="81.50" y1="314.50" x2="153.50" y2="314.50" stroke="#6a6a6a" stroke-width="1"/>
<line x1="112.50" y1="272.50" x2="112.50" y2="344.50" stroke="#6a6a6a" stroke-width="1"/>
<line x1="78.00" y1="273.70" x2="79.70" y2="272.30" stroke="#aaa" stroke-width="0.7"/>
<line x1="78.00" y1="291.70" x2="79.70" y2="290.30" stroke="#aaa" stroke-width="0.7"/>
<line x1="78.00" y1="309.70" x2="79.70" y2="308.30" stroke="#aaa" stroke-width="0.7"/>
<line x1="78.00" y1="327.70" x2="79.70" y2="326.30" stroke="#aaa" stroke-width="0.7"/>
<line x1="98.50" y1="348.20" x2="99.50" y2="347.00" stroke="#aaa" stroke-width="0.7"/>
<line x1="116.50" y1="348.20" x2="117.50" y2="347.00" stroke="#aaa" stroke-width="0.7"/>
<line x1="134.50" y1="348.20" x2="135.50" y2="347.00" stroke="#aaa" stroke-width="0.7"/>
<line x1="152.50" y1="348.20" x2="153.50" y2="347.00" stroke="#aaa" stroke-width="0.7"/>
<g filter="url(#bl)"><path d="M134.5 312.8h1v1h-1zM135.5 313.3h1v1h-1zM136.7 289.9h1v1h-1zM137.6 299.1h1v1h-1zM139.8 290.1h1v1h-1zM137.4 302.2h1v1h-1zM135.4 290.5h1v1h-1zM138.7 308.6h1v1h-1zM138.1 301.2h1v1h-1zM135.1 285.7h1v1h-1zM137.0 286.8h1v1h-1zM135.1 286.7h1v1h-1zM139.0 287.7h1v1h-1zM137.8 286.1h1v1h-1zM136.1 292.6h1v1h-1zM140.6 314.2h1v1h-1zM136.4 290.4h1v1h-1zM135.6 305.4h1v1h-1zM135.5 303.5h1v1h-1zM135.5 299.7h1v1h-1zM134.6 313.0h1v1h-1zM138.2 308.3h1v1h-1zM137.3 306.7h1v1h-1zM134.5 299.2h1v1h-1zM138.9 307.5h1v1h-1z" fill="#000" fill-opacity="0.10"/><path d="M137.0 292.4h1v1h-1zM138.0 303.5h1v1h-1zM137.6 294.5h1v1h-1zM139.1 306.0h1v1h-1zM136.0 297.8h1v1h-1zM134.1 312.6h1v1h-1zM139.6 295.2h1v1h-1zM136.7 311.9h1v1h-1zM135.9 299.4h1v1h-1zM138.4 295.9h1v1h-1zM135.2 299.3h1v1h-1zM137.4 288.4h1v1h-1zM139.3 295.8h1v1h-1zM136.4 295.5h1v1h-1zM137.4 298.2h1v1h-1zM133.2 311.4h1v1h-1zM140.3 312.4h1v1h-1zM139.4 302.2h1v1h-1zM137.8 311.1h1v1h-1zM140.7 287.9h1v1h-1zM139.2 313.3h1v1h-1zM139.6 314.6h1v1h-1zM139.0 307.2h1v1h-1z" fill="#000" fill-opacity="0.15"/><path d="M135.5 306.6h1v1h-1zM136.0 306.4h1v1h-1zM136.9 308.9h1v1h-1zM137.4 295.1h1v1h-1zM136.9 299.6h1v1h-1zM135.3 305.7h1v1h-1zM136.2 310.5h1v1h-1zM135.5 298.0h1v1h-1zM139.7 307.1h1v1h-1zM133.1 289.4h1v1h-1zM140.3 302.7h1v1h-1zM135.0 312.9h1v1h-1zM134.6 296.1h1v1h-1zM137.2 295.0h1v1h-1zM135.4 307.0h1v1h-1zM130.9 301.5h1v1h-1zM135.2 307.4h1v1h-1zM140.9 296.6h1v1h-1zM137.0 306.2h1v1h-1zM131.6 295.1h1v1h-1zM137.7 289.3h1v1h-1zM138.8 285.1h1v1h-1zM136.2 308.6h1v1h-1zM136.5 297.4h1v1h-1zM133.9 313.7h1v1h-1zM138.8 312.1h1v1h-1zM139.9 308.6h1v1h-1zM129.3 294.5h1v1h-1zM135.3 292.9h1v1h-1zM141.7 312.7h1v1h-1zM139.5 289.5h1v1h-1zM136.3 306.8h1v1h-1zM140.2 296.1h1v1h-1zM136.5 309.3h1v1h-1zM138.2 298.7h1v1h-1zM139.2 292.5h1v1h-1zM135.4 286.0h1v1h-1z" fill="#000" fill-opacity="0.20"/><path d="M132.9 289.3h1v1h-1zM133.7 290.5h1v1h-1zM139.4 302.9h1v1h-1zM137.9 305.2h1v1h-1zM136.1 302.1h1v1h-1zM138.4 325.8h1v1h-1zM137.7 319.1h1v1h-1zM139.0 320.6h1v1h-1zM136.9 323.2h1v1h-1zM138.6 329.1h1v1h-1zM140.0 333.8h1v1h-1zM138.2 323.1h1v1h-1zM137.5 321.9h1v1h-1zM137.1 319.8h1v1h-1zM134.9 329.4h1v1h-1zM138.6 328.3h1v1h-1zM135.4 320.6h1v1h-1zM135.1 328.4h1v1h-1zM136.6 328.9h1v1h-1zM138.3 324.6h1v1h-1zM139.8 326.5h1v1h-1zM137.3 328.3h1v1h-1zM136.1 331.4h1v1h-1zM134.6 320.0h1v1h-1zM139.8 323.2h1v1h-1zM138.5 330.4h1v1h-1zM139.1 330.0h1v1h-1zM136.3 320.8h1v1h-1zM136.1 322.4h1v1h-1zM134.2 333.4h1v1h-1zM138.5 325.8h1v1h-1zM141.5 326.0h1v1h-1zM140.5 324.5h1v1h-1zM134.6 331.9h1v1h-1zM135.9 323.7h1v1h-1zM139.2 326.0h1v1h-1z" fill="#000" fill-opacity="0.25"/><path d="M135.1 326.9h1v1h-1zM140.1 334.4h1v1h-1zM136.3 331.4h1v1h-1zM135.8 324.2h1v1h-1zM137.9 329.9h1v1h-1zM137.5 324.6h1v1h-1zM136.0 323.0h1v1h-1zM139.0 322.0h1v1h-1zM141.0 319.3h1v1h-1zM138.6 327.2h1v1h-1zM135.8 318.5h1v1h-1zM138.4 330.0h1v1h-1zM137.3 314.7h1v1h-1zM138.2 326.2h1v1h-1zM135.3 329.3h1v1h-1zM135.4 324.4h1v1h-1zM139.7 326.3h1v1h-1zM134.1 325.7h1v1h-1zM139.2 322.1h1v1h-1zM140.1 319.1h1v1h-1zM138.7 325.4h1v1h-1zM135.8 325.1h1v1h-1zM134.5 329.7h1v1h-1zM135.8 330.7h1v1h-1zM138.2 327.4h1v1h-1zM135.5 332.3h1v1h-1zM136.4 326.4h1v1h-1zM140.4 323.0h1v1h-1zM135.8 326.4h1v1h-1zM138.0 320.6h1v1h-1zM139.6 320.5h1v1h-1zM135.8 331.3h1v1h-1zM139.8 329.7h1v1h-1zM137.1 332.8h1v1h-1zM136.9 316.5h1v1h-1zM137.0 323.8h1v1h-1zM139.0 317.9h1v1h-1zM135.5 326.6h1v1h-1zM138.6 322.9h1v1h-1zM137.5 317.4h1v1h-1zM140.2 331.1h1v1h-1zM139.0 320.8h1v1h-1zM135.5 326.7h1v1h-1zM135.8 329.3h1v1h-1zM137.7 317.6h1v1h-1zM139.7 327.4h1v1h-1zM139.8 319.5h1v1h-1zM136.1 325.8h1v1h-1zM137.9 329.9h1v1h-1zM137.8 324.7h1v1h-1zM140.0 327.4h1v1h-1zM135.8 327.6h1v1h-1zM136.0 319.2h1v1h-1zM140.3 324.3h1v1h-1zM135.5 327.2h1v1h-1zM141.2 318.8h1v1h-1zM137.5 329.9h1v1h-1zM136.7 320.5h1v1h-1zM136.6 324.1h1v1h-1zM136.3 327.8h1v1h-1z" fill="#000" fill-opacity="0.30"/><path d="M138.1 325.8h1v1h-1zM138.6 331.9h1v1h-1zM140.1 330.5h1v1h-1zM133.9 324.1h1v1h-1zM133.0 325.2h1v1h-1zM137.5 330.9h1v1h-1zM135.4 334.9h1v1h-1zM138.8 325.2h1v1h-1zM138.6 325.6h1v1h-1zM136.0 322.6h1v1h-1zM139.1 327.7h1v1h-1zM136.0 331.6h1v1h-1zM141.1 325.7h1v1h-1zM138.0 325.3h1v1h-1zM135.9 327.5h1v1h-1zM138.3 328.5h1v1h-1zM142.4 325.5h1v1h-1zM135.4 323.6h1v1h-1zM135.9 326.3h1v1h-1zM138.2 324.4h1v1h-1zM140.0 326.1h1v1h-1zM141.2 328.0h1v1h-1zM140.2 321.3h1v1h-1zM138.9 317.7h1v1h-1zM140.9 332.9h1v1h-1zM139.7 329.2h1v1h-1zM135.5 317.5h1v1h-1zM138.1 322.2h1v1h-1zM137.8 325.2h1v1h-1zM137.3 327.4h1v1h-1zM138.4 333.4h1v1h-1zM139.1 331.9h1v1h-1zM138.7 325.7h1v1h-1zM136.0 327.2h1v1h-1zM138.7 324.7h1v1h-1zM139.5 322.0h1v1h-1zM135.6 323.1h1v1h-1zM137.1 322.6h1v1h-1zM140.1 329.9h1v1h-1zM133.6 325.2h1v1h-1zM141.4 331.3h1v1h-1zM141.6 327.2h1v1h-1zM137.0 328.3h1v1h-1zM137.7 318.3h1v1h-1zM140.0 328.0h1v1h-1zM136.5 328.5h1v1h-1zM135.1 325.4h1v1h-1zM136.9 327.6h1v1h-1zM140.9 323.8h1v1h-1zM136.1 326.7h1v1h-1zM138.1 326.5h1v1h-1zM136.7 327.7h1v1h-1zM138.0 324.5h1v1h-1zM137.7 322.5h1v1h-1zM135.8 324.7h1v1h-1zM137.2 327.2h1v1h-1zM139.5 319.8h1v1h-1zM134.8 325.1h1v1h-1zM138.8 321.8h1v1h-1zM138.0 321.6h1v1h-1zM137.1 322.6h1v1h-1zM141.5 327.0h1v1h-1zM137.9 324.9h1v1h-1z" fill="#000" fill-opacity="0.35"/><path d="M138.5 322.1h1v1h-1zM141.1 335.3h1v1h-1zM139.2 323.9h1v1h-1zM137.5 329.4h1v1h-1zM138.8 322.6h1v1h-1zM139.6 325.2h1v1h-1zM138.9 326.5h1v1h-1zM134.5 321.2h1v1h-1zM133.9 334.1h1v1h-1zM138.0 324.8h1v1h-1zM137.2 323.6h1v1h-1zM137.6 331.9h1v1h-1zM140.4 329.4h1v1h-1zM137.7 319.5h1v1h-1zM137.2 324.4h1v1h-1zM135.8 323.1h1v1h-1zM139.1 323.7h1v1h-1zM138.5 321.7h1v1h-1zM136.4 324.5h1v1h-1zM136.5 329.6h1v1h-1zM137.1 325.6h1v1h-1zM139.2 333.2h1v1h-1zM133.2 321.1h1v1h-1zM136.0 324.9h1v1h-1zM138.0 329.4h1v1h-1zM135.6 329.2h1v1h-1zM136.0 328.7h1v1h-1zM136.2 325.8h1v1h-1zM139.4 322.4h1v1h-1zM136.3 325.5h1v1h-1zM136.9 329.1h1v1h-1zM138.9 332.4h1v1h-1zM136.3 334.6h1v1h-1zM137.0 327.4h1v1h-1zM139.2 324.3h1v1h-1zM138.9 326.4h1v1h-1zM136.2 324.3h1v1h-1zM137.6 321.5h1v1h-1zM139.4 329.0h1v1h-1zM137.2 329.7h1v1h-1zM136.0 322.9h1v1h-1zM138.6 328.6h1v1h-1zM137.9 321.1h1v1h-1zM136.8 319.6h1v1h-1zM135.7 327.5h1v1h-1zM138.7 327.2h1v1h-1zM139.8 327.4h1v1h-1zM138.1 321.6h1v1h-1zM139.3 325.9h1v1h-1zM135.6 322.5h1v1h-1zM138.0 327.6h1v1h-1zM137.5 328.3h1v1h-1zM136.0 319.9h1v1h-1zM137.2 327.0h1v1h-1zM138.6 326.7h1v1h-1zM136.8 329.7h1v1h-1zM136.8 328.2h1v1h-1zM136.8 328.9h1v1h-1zM139.3 329.6h1v1h-1zM135.5 323.5h1v1h-1z" fill="#000" fill-opacity="0.40"/><path d="M134.6 324.7h1v1h-1zM141.3 323.6h1v1h-1zM138.7 327.5h1v1h-1zM133.2 328.1h1v1h-1zM139.2 330.8h1v1h-1zM143.3 319.7h1v1h-1zM139.9 325.2h1v1h-1zM137.0 324.9h1v1h-1zM137.6 327.7h1v1h-1zM136.2 325.6h1v1h-1zM138.9 322.3h1v1h-1zM140.6 326.7h1v1h-1zM138.5 324.4h1v1h-1zM139.7 326.3h1v1h-1zM138.3 319.0h1v1h-1zM140.2 323.4h1v1h-1zM140.0 316.4h1v1h-1zM138.1 330.7h1v1h-1zM135.1 325.2h1v1h-1zM135.6 326.8h1v1h-1zM138.1 331.5h1v1h-1zM140.5 322.4h1v1h-1zM139.6 326.1h1v1h-1zM137.9 331.5h1v1h-1zM139.2 333.0h1v1h-1zM141.2 331.6h1v1h-1zM138.1 325.4h1v1h-1zM138.2 327.1h1v1h-1zM138.7 330.8h1v1h-1zM139.0 328.1h1v1h-1zM136.9 319.4h1v1h-1zM135.4 328.4h1v1h-1zM136.7 327.1h1v1h-1zM139.1 317.4h1v1h-1zM136.1 333.0h1v1h-1zM137.3 329.1h1v1h-1zM136.4 327.2h1v1h-1zM137.7 324.4h1v1h-1zM139.5 326.6h1v1h-1zM135.9 324.8h1v1h-1zM136.2 326.6h1v1h-1zM135.0 330.8h1v1h-1zM138.6 320.4h1v1h-1zM137.9 326.6h1v1h-1zM138.0 323.1h1v1h-1zM140.1 326.1h1v1h-1zM134.5 323.7h1v1h-1zM138.8 319.0h1v1h-1zM140.3 322.6h1v1h-1zM138.8 328.5h1v1h-1zM138.1 326.9h1v1h-1zM139.1 316.8h1v1h-1zM138.6 321.5h1v1h-1zM136.4 327.3h1v1h-1zM133.1 323.1h1v1h-1zM136.6 328.1h1v1h-1zM134.0 328.2h1v1h-1zM138.4 327.6h1v1h-1z" fill="#000" fill-opacity="0.45"/><path d="M138.0 334.6h1v1h-1zM134.1 318.6h1v1h-1zM139.1 319.4h1v1h-1zM139.2 330.3h1v1h-1zM138.2 325.8h1v1h-1zM133.5 319.5h1v1h-1zM138.4 320.3h1v1h-1zM139.3 331.5h1v1h-1zM137.3 331.3h1v1h-1zM140.7 314.6h1v1h-1zM136.2 318.4h1v1h-1zM137.4 322.1h1v1h-1zM134.8 326.4h1v1h-1zM134.6 325.8h1v1h-1zM136.2 318.0h1v1h-1zM137.7 323.4h1v1h-1zM135.8 325.2h1v1h-1zM137.5 331.0h1v1h-1zM139.3 322.2h1v1h-1zM137.4 324.6h1v1h-1zM137.7 324.7h1v1h-1zM139.3 324.5h1v1h-1zM135.4 333.2h1v1h-1zM138.6 325.8h1v1h-1zM136.8 319.5h1v1h-1zM137.8 325.4h1v1h-1zM137.8 323.6h1v1h-1zM139.4 331.4h1v1h-1zM137.6 323.1h1v1h-1zM138.3 322.5h1v1h-1zM137.4 320.7h1v1h-1zM137.0 325.1h1v1h-1zM136.8 325.4h1v1h-1zM139.2 320.3h1v1h-1zM136.7 328.4h1v1h-1zM136.7 324.3h1v1h-1zM137.9 325.0h1v1h-1zM137.7 325.4h1v1h-1z" fill="#000" fill-opacity="0.50"/></g>
<text x="152.60" y="283.10" font-size="8.1" text-anchor="end" font-weight="bold" >14.50%</text>
<text x="143.30" y="341.20" font-size="8.1" text-anchor="end" font-weight="bold" >85.50%</text>
<line x1="161.50" y1="272.50" x2="233.50" y2="272.50" stroke="#a2a2a2" stroke-width="1"/>
<line x1="233.50" y1="272.50" x2="233.50" y2="344.50" stroke="#929292" stroke-width="1"/>
<line x1="161.50" y1="272.00" x2="161.50" y2="345.00" stroke="#5a5a5a" stroke-width="1"/>
<line x1="161.50" y1="344.50" x2="234.00" y2="344.50" stroke="#5a5a5a" stroke-width="1"/>
<line x1="161.50" y1="314.50" x2="233.50" y2="314.50" stroke="#b0b0b0" stroke-width="1"/>
<line x1="191.50" y1="272.50" x2="191.50" y2="344.50" stroke="#6a6a6a" stroke-width="1"/>
<line x1="158.00" y1="273.70" x2="159.70" y2="272.30" stroke="#aaa" stroke-width="0.7"/>
<line x1="158.00" y1="291.70" x2="159.70" y2="290.30" stroke="#aaa" stroke-width="0.7"/>
<line x1="158.00" y1="309.70" x2="159.70" y2="308.30" stroke="#aaa" stroke-width="0.7"/>
<line x1="158.00" y1="327.70" x2="159.70" y2="326.30" stroke="#aaa" stroke-width="0.7"/>
<line x1="178.50" y1="348.20" x2="179.50" y2="347.00" stroke="#aaa" stroke-width="0.7"/>
<line x1="196.50" y1="348.20" x2="197.50" y2="347.00" stroke="#aaa" stroke-width="0.7"/>
<line x1="214.50" y1="348.20" x2="215.50" y2="347.00" stroke="#aaa" stroke-width="0.7"/>
<line x1="232.50" y1="348.20" x2="233.50" y2="347.00" stroke="#aaa" stroke-width="0.7"/>
<g filter="url(#bl)"><path d="M217.0 297.1h1v1h-1zM214.8 303.7h1v1h-1zM215.5 298.4h1v1h-1zM212.7 308.5h1v1h-1zM213.5 288.4h1v1h-1zM220.6 309.3h1v1h-1z" fill="#000" fill-opacity="0.05"/><path d="M212.5 294.6h1v1h-1zM213.8 292.2h1v1h-1zM213.1 303.3h1v1h-1zM221.1 290.8h1v1h-1zM211.5 300.0h1v1h-1zM219.7 291.4h1v1h-1zM219.0 305.1h1v1h-1zM222.0 290.1h1v1h-1zM214.2 309.1h1v1h-1zM214.8 301.3h1v1h-1zM215.7 314.9h1v1h-1zM219.4 302.6h1v1h-1zM213.6 294.7h1v1h-1zM216.4 305.5h1v1h-1zM215.9 313.7h1v1h-1zM214.2 288.5h1v1h-1z" fill="#000" fill-opacity="0.10"/><path d="M214.9 290.7h1v1h-1zM210.4 314.2h1v1h-1zM221.4 291.4h1v1h-1zM214.7 288.6h1v1h-1zM211.2 302.8h1v1h-1zM215.3 293.2h1v1h-1zM216.5 303.5h1v1h-1zM212.2 312.9h1v1h-1zM219.2 307.1h1v1h-1zM214.2 313.3h1v1h-1zM216.8 291.0h1v1h-1zM221.3 300.0h1v1h-1zM216.1 299.2h1v1h-1zM213.5 305.4h1v1h-1zM215.9 299.4h1v1h-1zM220.6 306.8h1v1h-1zM214.8 301.3h1v1h-1zM216.5 309.6h1v1h-1zM214.6 308.6h1v1h-1zM210.0 297.0h1v1h-1zM214.2 312.7h1v1h-1zM218.6 314.8h1v1h-1zM212.1 304.8h1v1h-1zM214.0 294.1h1v1h-1zM214.0 302.3h1v1h-1zM214.4 313.8h1v1h-1zM218.9 297.3h1v1h-1zM217.2 301.3h1v1h-1zM215.2 298.7h1v1h-1z" fill="#000" fill-opacity="0.15"/><path d="M215.8 309.8h1v1h-1zM212.6 301.3h1v1h-1zM213.1 288.5h1v1h-1zM211.5 291.1h1v1h-1zM214.7 311.7h1v1h-1zM214.0 310.3h1v1h-1zM216.3 307.6h1v1h-1zM216.3 307.0h1v1h-1zM211.6 292.7h1v1h-1z" fill="#000" fill-opacity="0.20"/><path d="M216.9 323.7h1v1h-1zM218.6 326.3h1v1h-1zM216.0 324.8h1v1h-1zM214.1 322.9h1v1h-1zM216.1 326.6h1v1h-1z" fill="#000" fill-opacity="0.25"/><path d="M213.9 323.5h1v1h-1zM214.1 327.0h1v1h-1zM218.9 325.2h1v1h-1zM213.6 323.1h1v1h-1zM217.2 317.2h1v1h-1zM218.0 330.9h1v1h-1zM217.6 321.2h1v1h-1zM217.9 325.2h1v1h-1zM216.4 317.6h1v1h-1zM217.9 325.8h1v1h-1zM211.3 320.2h1v1h-1zM211.2 322.2h1v1h-1zM214.4 322.6h1v1h-1zM217.4 326.2h1v1h-1zM215.8 320.5h1v1h-1zM214.4 319.6h1v1h-1zM214.5 319.4h1v1h-1zM218.1 323.8h1v1h-1zM219.3 328.7h1v1h-1zM215.3 325.3h1v1h-1zM216.4 318.6h1v1h-1zM219.3 328.0h1v1h-1zM217.4 325.0h1v1h-1zM216.4 331.2h1v1h-1zM213.6 321.4h1v1h-1zM217.0 323.1h1v1h-1zM217.8 322.0h1v1h-1zM214.1 322.3h1v1h-1zM218.5 330.9h1v1h-1zM218.2 325.3h1v1h-1zM217.4 318.0h1v1h-1zM212.7 328.7h1v1h-1zM219.0 327.4h1v1h-1zM215.3 318.0h1v1h-1zM218.9 320.9h1v1h-1zM219.3 322.8h1v1h-1zM217.4 328.2h1v1h-1zM214.3 324.1h1v1h-1zM214.5 330.2h1v1h-1zM214.6 325.4h1v1h-1zM215.3 328.2h1v1h-1zM214.4 322.3h1v1h-1zM215.7 326.8h1v1h-1zM216.6 329.2h1v1h-1zM214.3 319.0h1v1h-1zM217.4 324.3h1v1h-1zM217.8 320.6h1v1h-1zM215.2 328.2h1v1h-1zM219.9 325.9h1v1h-1zM215.7 317.7h1v1h-1zM215.9 324.5h1v1h-1zM218.6 325.0h1v1h-1zM212.7 324.1h1v1h-1zM217.7 328.3h1v1h-1zM210.6 324.3h1v1h-1zM214.4 318.2h1v1h-1zM218.9 333.7h1v1h-1zM214.7 323.9h1v1h-1z" fill="#000" fill-opacity="0.30"/><path d="M216.1 326.8h1v1h-1zM217.3 326.6h1v1h-1zM213.0 328.9h1v1h-1zM215.0 332.9h1v1h-1zM214.3 328.7h1v1h-1zM213.2 331.3h1v1h-1zM213.0 326.7h1v1h-1zM215.4 324.6h1v1h-1zM218.1 326.2h1v1h-1zM218.5 332.4h1v1h-1zM217.8 318.4h1v1h-1zM219.1 328.3h1v1h-1zM214.4 334.7h1v1h-1zM219.0 330.1h1v1h-1zM217.5 324.5h1v1h-1zM217.3 326.2h1v1h-1zM214.9 325.0h1v1h-1zM219.6 319.3h1v1h-1zM216.0 326.9h1v1h-1zM213.4 327.9h1v1h-1zM215.8 324.2h1v1h-1zM216.1 328.4h1v1h-1zM218.7 331.5h1v1h-1zM216.9 330.9h1v1h-1zM214.7 325.8h1v1h-1zM218.8 325.2h1v1h-1zM213.3 333.2h1v1h-1zM216.5 329.3h1v1h-1zM217.0 333.8h1v1h-1zM216.8 334.9h1v1h-1zM217.4 325.8h1v1h-1zM217.3 327.4h1v1h-1zM215.4 321.0h1v1h-1zM215.5 320.6h1v1h-1zM217.1 332.1h1v1h-1zM215.6 317.0h1v1h-1zM212.8 323.5h1v1h-1zM216.5 324.9h1v1h-1zM216.6 330.8h1v1h-1zM213.9 326.1h1v1h-1zM217.2 326.7h1v1h-1zM214.6 322.7h1v1h-1zM217.7 329.6h1v1h-1zM221.0 331.8h1v1h-1zM214.4 324.0h1v1h-1zM218.4 328.7h1v1h-1zM217.3 323.8h1v1h-1zM214.6 323.5h1v1h-1zM219.5 331.5h1v1h-1zM217.6 326.1h1v1h-1zM215.8 321.5h1v1h-1zM218.0 324.4h1v1h-1zM216.7 327.9h1v1h-1zM218.4 330.1h1v1h-1zM214.0 321.1h1v1h-1zM217.1 331.3h1v1h-1zM217.0 323.4h1v1h-1zM215.6 325.9h1v1h-1zM216.0 323.3h1v1h-1zM218.7 332.8h1v1h-1zM213.3 325.8h1v1h-1zM217.3 317.3h1v1h-1zM215.8 321.3h1v1h-1zM214.0 331.4h1v1h-1zM216.7 317.3h1v1h-1zM217.6 330.5h1v1h-1zM219.0 331.5h1v1h-1zM216.8 325.5h1v1h-1zM217.3 330.5h1v1h-1zM216.5 322.5h1v1h-1zM216.5 329.5h1v1h-1zM220.1 320.1h1v1h-1zM216.0 327.2h1v1h-1zM219.0 324.8h1v1h-1z" fill="#000" fill-opacity="0.35"/><path d="M213.0 323.5h1v1h-1zM214.2 329.5h1v1h-1zM215.5 319.7h1v1h-1zM215.9 322.0h1v1h-1zM217.0 323.1h1v1h-1zM214.8 322.9h1v1h-1zM215.5 324.0h1v1h-1zM216.8 316.1h1v1h-1zM216.5 327.6h1v1h-1zM219.3 328.9h1v1h-1zM214.4 321.7h1v1h-1zM215.2 323.8h1v1h-1zM213.3 325.3h1v1h-1zM216.0 326.8h1v1h-1zM215.6 319.2h1v1h-1zM219.2 329.6h1v1h-1zM216.3 332.1h1v1h-1zM216.0 326.1h1v1h-1zM220.8 327.4h1v1h-1zM216.8 318.0h1v1h-1zM215.5 322.5h1v1h-1zM214.5 324.3h1v1h-1zM215.1 327.6h1v1h-1zM219.6 334.0h1v1h-1zM217.9 326.1h1v1h-1zM215.3 322.4h1v1h-1zM216.6 322.1h1v1h-1zM215.6 321.5h1v1h-1zM217.4 320.8h1v1h-1zM217.3 323.4h1v1h-1zM213.7 327.6h1v1h-1zM216.4 322.6h1v1h-1zM214.3 323.7h1v1h-1zM218.8 325.6h1v1h-1zM215.6 319.9h1v1h-1zM217.3 333.3h1v1h-1zM215.6 320.0h1v1h-1zM216.4 323.6h1v1h-1zM214.3 330.3h1v1h-1zM215.0 317.8h1v1h-1zM214.3 332.5h1v1h-1zM214.2 324.2h1v1h-1zM217.0 325.0h1v1h-1zM220.9 320.6h1v1h-1z" fill="#000" fill-opacity="0.40"/><path d="M219.2 322.6h1v1h-1zM217.1 326.2h1v1h-1zM218.0 324.3h1v1h-1zM217.1 318.5h1v1h-1zM218.6 327.5h1v1h-1zM218.7 321.2h1v1h-1zM219.6 326.6h1v1h-1zM217.3 327.4h1v1h-1zM215.9 321.6h1v1h-1zM213.9 326.5h1v1h-1zM214.8 322.1h1v1h-1zM219.0 321.1h1v1h-1zM215.8 317.6h1v1h-1zM219.5 331.5h1v1h-1zM216.1 324.8h1v1h-1zM219.9 325.0h1v1h-1zM217.2 330.8h1v1h-1zM218.3 319.2h1v1h-1zM220.6 323.6h1v1h-1zM218.6 327.5h1v1h-1zM216.5 320.5h1v1h-1zM217.1 321.5h1v1h-1zM215.9 327.4h1v1h-1zM218.9 320.0h1v1h-1zM214.4 322.2h1v1h-1zM211.6 318.6h1v1h-1zM217.2 325.8h1v1h-1zM213.0 327.3h1v1h-1zM215.7 317.1h1v1h-1zM217.6 325.3h1v1h-1zM220.2 322.9h1v1h-1zM217.0 323.1h1v1h-1zM218.6 323.0h1v1h-1zM215.1 328.4h1v1h-1zM217.1 327.3h1v1h-1zM213.6 320.1h1v1h-1zM214.9 323.7h1v1h-1zM217.9 327.7h1v1h-1zM217.0 321.7h1v1h-1zM214.1 322.6h1v1h-1zM219.5 323.0h1v1h-1zM218.3 325.2h1v1h-1zM219.5 325.9h1v1h-1z" fill="#000" fill-opacity="0.45"/><path d="M216.4 334.3h1v1h-1zM218.4 331.6h1v1h-1zM219.7 321.3h1v1h-1zM217.3 328.3h1v1h-1zM217.5 328.6h1v1h-1zM219.4 325.4h1v1h-1zM217.7 323.5h1v1h-1zM219.5 317.9h1v1h-1zM217.2 319.8h1v1h-1zM214.5 331.0h1v1h-1zM214.3 322.6h1v1h-1zM220.1 330.1h1v1h-1zM218.9 326.9h1v1h-1zM214.1 324.9h1v1h-1zM216.9 330.1h1v1h-1zM212.6 333.9h1v1h-1zM216.4 325.9h1v1h-1zM216.4 324.1h1v1h-1zM219.4 324.9h1v1h-1zM218.4 326.8h1v1h-1zM220.1 319.7h1v1h-1zM219.0 333.6h1v1h-1zM216.2 322.6h1v1h-1zM218.0 330.5h1v1h-1zM217.4 327.5h1v1h-1zM213.5 329.2h1v1h-1zM217.2 335.0h1v1h-1zM219.3 330.7h1v1h-1zM217.3 319.2h1v1h-1zM218.2 329.3h1v1h-1zM217.5 325.9h1v1h-1zM217.9 320.4h1v1h-1zM214.8 328.6h1v1h-1zM216.4 327.2h1v1h-1zM216.1 323.9h1v1h-1zM215.3 317.7h1v1h-1zM216.3 325.9h1v1h-1zM215.3 323.6h1v1h-1zM215.4 329.4h1v1h-1zM215.0 322.1h1v1h-1zM214.4 330.0h1v1h-1zM218.1 326.0h1v1h-1zM217.8 325.1h1v1h-1zM216.2 328.7h1v1h-1zM218.4 327.2h1v1h-1zM215.3 318.5h1v1h-1zM216.5 324.0h1v1h-1zM218.3 330.6h1v1h-1zM214.8 333.5h1v1h-1zM213.9 325.8h1v1h-1zM213.0 323.1h1v1h-1zM217.4 323.9h1v1h-1zM218.7 317.9h1v1h-1zM216.1 323.5h1v1h-1zM215.5 320.8h1v1h-1zM216.3 325.8h1v1h-1zM214.1 324.1h1v1h-1zM215.5 323.1h1v1h-1zM213.7 331.7h1v1h-1zM215.8 323.5h1v1h-1zM215.3 327.8h1v1h-1zM216.6 329.9h1v1h-1zM217.1 332.7h1v1h-1zM216.0 330.7h1v1h-1zM214.2 318.7h1v1h-1z" fill="#000" fill-opacity="0.50"/><path d="M213.6 319.6h1v1h-1zM214.5 326.4h1v1h-1zM221.3 325.0h1v1h-1zM214.9 322.0h1v1h-1zM215.3 327.2h1v1h-1zM211.6 329.6h1v1h-1zM217.3 325.4h1v1h-1zM214.0 320.6h1v1h-1zM218.0 322.6h1v1h-1zM217.0 322.3h1v1h-1zM219.8 327.9h1v1h-1zM217.2 325.0h1v1h-1zM217.1 327.9h1v1h-1zM214.7 327.2h1v1h-1zM220.9 318.3h1v1h-1zM217.6 324.3h1v1h-1zM215.5 318.3h1v1h-1zM216.4 330.9h1v1h-1zM216.9 325.3h1v1h-1zM214.2 316.0h1v1h-1zM216.0 323.4h1v1h-1z" fill="#000" fill-opacity="0.55"/></g>
<text x="221.30" y="281.90" font-size="8.1" text-anchor="end" font-weight="bold" >7.07%</text>
<text x="224.00" y="341.30" font-size="8.1" text-anchor="end" font-weight="bold" >92.93%</text>
<line x1="266.50" y1="274.50" x2="337.50" y2="274.50" stroke="#a2a2a2" stroke-width="1"/>
<line x1="337.50" y1="274.50" x2="337.50" y2="345.50" stroke="#929292" stroke-width="1"/>
<line x1="266.50" y1="274.00" x2="266.50" y2="346.00" stroke="#5a5a5a" stroke-width="1"/>
<line x1="266.50" y1="345.50" x2="338.00" y2="345.50" stroke="#5a5a5a" stroke-width="1"/>
<line x1="266.50" y1="319.50" x2="337.50" y2="319.50" stroke="#6a6a6a" stroke-width="1"/>
<line x1="293.50" y1="274.50" x2="293.50" y2="345.50" stroke="#6a6a6a" stroke-width="1"/>
<line x1="263.00" y1="275.70" x2="264.70" y2="274.30" stroke="#aaa" stroke-width="0.7"/>
<line x1="263.00" y1="293.45" x2="264.70" y2="292.05" stroke="#aaa" stroke-width="0.7"/>
<line x1="263.00" y1="311.20" x2="264.70" y2="309.80" stroke="#aaa" stroke-width="0.7"/>
<line x1="263.00" y1="328.95" x2="264.70" y2="327.55" stroke="#aaa" stroke-width="0.7"/>
<line x1="283.25" y1="349.20" x2="284.25" y2="348.00" stroke="#aaa" stroke-width="0.7"/>
<line x1="301.00" y1="349.20" x2="302.00" y2="348.00" stroke="#aaa" stroke-width="0.7"/>
<line x1="318.75" y1="349.20" x2="319.75" y2="348.00" stroke="#aaa" stroke-width="0.7"/>
<line x1="336.50" y1="349.20" x2="337.50" y2="348.00" stroke="#aaa" stroke-width="0.7"/>
<g filter="url(#bl)"><path d="M316.4 335.1h1v1h-1zM319.5 319.5h1v1h-1zM317.4 328.5h1v1h-1zM318.1 329.3h1v1h-1zM317.0 335.8h1v1h-1zM317.1 331.9h1v1h-1zM322.0 321.6h1v1h-1zM317.8 320.9h1v1h-1zM322.2 319.6h1v1h-1zM316.4 327.1h1v1h-1zM321.7 331.1h1v1h-1zM319.0 335.5h1v1h-1zM322.5 328.0h1v1h-1z" fill="#000" fill-opacity="0.10"/><path d="M319.1 328.3h1v1h-1zM322.0 331.3h1v1h-1zM319.2 334.8h1v1h-1zM318.8 326.4h1v1h-1zM320.7 326.3h1v1h-1zM321.0 322.1h1v1h-1zM316.9 330.3h1v1h-1zM324.0 323.2h1v1h-1zM319.5 321.5h1v1h-1zM318.9 320.6h1v1h-1zM318.3 325.3h1v1h-1zM322.2 322.6h1v1h-1zM317.4 329.5h1v1h-1zM320.3 328.3h1v1h-1zM318.3 328.4h1v1h-1zM320.7 322.5h1v1h-1zM318.6 331.5h1v1h-1zM319.9 328.6h1v1h-1zM318.2 329.5h1v1h-1zM321.8 320.5h1v1h-1zM317.1 326.9h1v1h-1zM315.4 323.9h1v1h-1zM319.4 320.1h1v1h-1zM319.2 328.3h1v1h-1zM317.6 322.1h1v1h-1zM318.6 332.0h1v1h-1zM320.0 331.8h1v1h-1zM316.4 333.3h1v1h-1zM319.0 321.9h1v1h-1zM321.3 322.7h1v1h-1zM321.3 329.7h1v1h-1zM322.4 321.4h1v1h-1zM319.4 331.2h1v1h-1zM320.1 327.7h1v1h-1zM319.3 329.0h1v1h-1zM319.9 334.2h1v1h-1zM320.8 330.4h1v1h-1zM318.1 334.0h1v1h-1zM315.6 333.2h1v1h-1zM320.7 330.6h1v1h-1zM320.3 330.5h1v1h-1z" fill="#000" fill-opacity="0.15"/><path d="M322.9 311.5h1v1h-1zM324.6 309.0h1v1h-1zM323.6 316.4h1v1h-1zM321.8 308.1h1v1h-1zM322.6 305.2h1v1h-1zM321.2 300.3h1v1h-1zM321.1 305.7h1v1h-1zM320.0 297.9h1v1h-1zM319.3 314.4h1v1h-1zM322.7 315.3h1v1h-1zM323.6 302.0h1v1h-1zM321.4 330.4h1v1h-1zM318.5 331.0h1v1h-1zM317.6 326.3h1v1h-1zM318.8 333.9h1v1h-1zM318.3 324.0h1v1h-1zM320.6 324.2h1v1h-1zM318.1 331.0h1v1h-1zM318.5 335.0h1v1h-1zM319.8 334.0h1v1h-1zM320.0 333.3h1v1h-1zM319.3 330.1h1v1h-1zM316.4 335.3h1v1h-1zM322.3 333.6h1v1h-1zM321.4 322.7h1v1h-1zM314.4 330.6h1v1h-1zM320.1 334.2h1v1h-1zM319.8 330.1h1v1h-1zM319.0 333.9h1v1h-1zM318.2 327.6h1v1h-1zM320.3 320.6h1v1h-1zM317.9 332.7h1v1h-1zM319.4 333.6h1v1h-1zM320.7 331.4h1v1h-1zM321.5 324.1h1v1h-1zM318.9 322.8h1v1h-1zM317.2 331.0h1v1h-1zM318.3 323.6h1v1h-1zM319.0 322.0h1v1h-1zM324.4 323.0h1v1h-1zM315.7 331.7h1v1h-1zM319.4 331.0h1v1h-1zM319.6 323.8h1v1h-1zM319.0 323.7h1v1h-1zM320.8 320.4h1v1h-1zM320.6 334.6h1v1h-1zM321.5 332.1h1v1h-1zM322.1 333.1h1v1h-1zM316.5 330.8h1v1h-1zM321.8 331.8h1v1h-1zM318.5 334.0h1v1h-1zM321.1 329.7h1v1h-1zM318.5 325.8h1v1h-1zM320.8 319.1h1v1h-1zM315.3 325.3h1v1h-1z" fill="#000" fill-opacity="0.20"/><path d="M319.1 319.2h1v1h-1zM323.8 305.0h1v1h-1zM324.2 310.7h1v1h-1zM318.0 309.8h1v1h-1zM320.5 308.3h1v1h-1zM319.7 296.3h1v1h-1zM321.9 309.5h1v1h-1zM322.1 299.9h1v1h-1zM322.8 296.3h1v1h-1zM322.9 296.8h1v1h-1zM326.7 297.7h1v1h-1zM319.3 302.3h1v1h-1zM319.5 296.8h1v1h-1zM324.2 306.3h1v1h-1zM322.3 307.1h1v1h-1zM322.6 303.7h1v1h-1zM322.9 316.9h1v1h-1zM323.4 316.4h1v1h-1zM323.1 309.3h1v1h-1zM320.4 308.2h1v1h-1zM321.4 305.9h1v1h-1zM320.1 309.1h1v1h-1zM322.9 304.9h1v1h-1zM321.0 300.2h1v1h-1zM321.4 307.7h1v1h-1zM326.2 294.6h1v1h-1zM326.0 318.5h1v1h-1zM321.6 311.6h1v1h-1zM318.8 307.9h1v1h-1zM320.9 310.4h1v1h-1zM322.5 309.2h1v1h-1zM320.6 319.7h1v1h-1zM321.5 315.8h1v1h-1zM321.6 306.7h1v1h-1zM321.3 316.2h1v1h-1zM323.5 297.8h1v1h-1zM321.8 305.4h1v1h-1zM320.4 313.7h1v1h-1zM319.8 299.8h1v1h-1zM323.1 313.7h1v1h-1zM319.8 316.2h1v1h-1zM319.3 314.7h1v1h-1zM320.4 303.0h1v1h-1zM323.9 312.3h1v1h-1zM321.3 294.6h1v1h-1zM318.8 300.0h1v1h-1zM322.6 312.6h1v1h-1zM318.8 315.7h1v1h-1zM320.4 303.4h1v1h-1zM321.1 305.6h1v1h-1zM326.0 306.5h1v1h-1zM322.9 311.5h1v1h-1zM321.2 331.2h1v1h-1zM316.4 332.8h1v1h-1zM320.9 332.2h1v1h-1zM322.5 321.1h1v1h-1zM320.9 323.7h1v1h-1zM318.4 320.4h1v1h-1zM319.6 320.3h1v1h-1zM319.8 322.0h1v1h-1zM320.1 335.5h1v1h-1zM318.6 330.5h1v1h-1zM316.9 332.6h1v1h-1zM320.8 320.7h1v1h-1zM318.0 331.8h1v1h-1zM319.5 334.0h1v1h-1zM315.6 333.8h1v1h-1zM317.6 325.4h1v1h-1zM320.9 321.9h1v1h-1zM318.0 334.5h1v1h-1zM315.5 335.3h1v1h-1zM320.0 327.6h1v1h-1zM320.2 333.4h1v1h-1zM316.5 330.7h1v1h-1zM322.5 323.3h1v1h-1zM322.0 319.6h1v1h-1zM320.9 319.1h1v1h-1zM319.4 333.2h1v1h-1z" fill="#000" fill-opacity="0.25"/><path d="M323.4 309.9h1v1h-1zM324.2 308.9h1v1h-1zM319.4 316.7h1v1h-1zM325.1 292.9h1v1h-1zM320.8 301.1h1v1h-1zM321.8 307.1h1v1h-1zM321.4 311.7h1v1h-1zM322.4 299.6h1v1h-1zM322.2 309.6h1v1h-1zM319.6 305.9h1v1h-1zM320.9 297.2h1v1h-1zM321.9 307.9h1v1h-1zM323.1 313.4h1v1h-1zM321.2 307.1h1v1h-1zM321.5 305.5h1v1h-1zM323.0 316.8h1v1h-1zM321.2 300.2h1v1h-1zM321.6 308.0h1v1h-1zM323.4 299.4h1v1h-1zM322.6 312.1h1v1h-1zM325.4 297.0h1v1h-1zM321.0 298.2h1v1h-1zM324.6 293.9h1v1h-1zM321.4 301.4h1v1h-1zM323.0 298.0h1v1h-1zM318.9 319.5h1v1h-1zM319.5 313.1h1v1h-1zM321.7 304.4h1v1h-1zM322.0 306.6h1v1h-1zM323.4 295.5h1v1h-1zM320.5 313.2h1v1h-1zM321.5 305.7h1v1h-1zM321.2 305.9h1v1h-1zM322.0 305.7h1v1h-1zM321.5 319.2h1v1h-1zM320.2 314.7h1v1h-1zM326.2 301.8h1v1h-1zM321.7 297.0h1v1h-1zM322.0 310.5h1v1h-1zM322.9 301.7h1v1h-1zM325.9 307.8h1v1h-1zM320.6 300.1h1v1h-1zM314.2 330.7h1v1h-1zM318.3 333.9h1v1h-1zM319.8 333.2h1v1h-1zM319.8 324.9h1v1h-1zM317.3 323.4h1v1h-1zM317.8 326.0h1v1h-1zM320.7 330.8h1v1h-1zM323.2 319.2h1v1h-1zM319.1 321.7h1v1h-1zM323.6 325.2h1v1h-1zM319.9 324.9h1v1h-1zM319.4 319.1h1v1h-1zM318.0 332.6h1v1h-1zM316.8 332.7h1v1h-1zM316.9 323.4h1v1h-1zM321.3 323.2h1v1h-1z" fill="#000" fill-opacity="0.30"/><path d="M320.1 303.7h1v1h-1zM321.8 307.4h1v1h-1zM322.9 309.5h1v1h-1zM321.0 306.5h1v1h-1zM321.7 311.2h1v1h-1zM318.2 317.0h1v1h-1zM322.3 305.6h1v1h-1zM325.7 301.2h1v1h-1zM323.7 300.9h1v1h-1zM323.8 307.7h1v1h-1zM322.6 296.9h1v1h-1zM320.4 307.6h1v1h-1zM324.2 308.2h1v1h-1zM324.3 304.4h1v1h-1zM322.8 299.4h1v1h-1zM318.6 312.2h1v1h-1zM321.0 304.8h1v1h-1zM320.8 307.1h1v1h-1zM321.1 313.2h1v1h-1zM324.7 308.8h1v1h-1zM318.0 302.2h1v1h-1zM321.7 307.4h1v1h-1zM320.4 307.2h1v1h-1zM320.8 307.1h1v1h-1zM324.8 304.9h1v1h-1zM322.0 310.8h1v1h-1zM322.2 306.6h1v1h-1zM323.5 301.0h1v1h-1zM321.8 311.1h1v1h-1zM320.1 310.5h1v1h-1zM321.2 306.3h1v1h-1zM322.3 309.2h1v1h-1zM323.0 314.0h1v1h-1zM318.9 309.9h1v1h-1zM321.5 302.0h1v1h-1zM321.7 306.7h1v1h-1zM324.2 306.7h1v1h-1zM324.9 308.8h1v1h-1zM320.7 313.4h1v1h-1zM324.2 309.9h1v1h-1zM320.9 299.2h1v1h-1zM323.0 305.2h1v1h-1zM319.9 301.6h1v1h-1zM323.0 307.5h1v1h-1zM322.8 306.1h1v1h-1zM319.8 304.4h1v1h-1zM319.9 312.0h1v1h-1zM320.1 305.1h1v1h-1zM323.8 310.3h1v1h-1zM320.5 303.2h1v1h-1zM321.0 305.1h1v1h-1zM318.9 314.4h1v1h-1zM320.2 315.2h1v1h-1zM323.7 301.9h1v1h-1zM318.8 307.5h1v1h-1zM322.9 305.7h1v1h-1zM321.9 311.0h1v1h-1z" fill="#000" fill-opacity="0.35"/><path d="M325.6 296.7h1v1h-1zM321.7 315.6h1v1h-1zM322.6 301.5h1v1h-1zM319.7 313.5h1v1h-1zM319.5 296.8h1v1h-1zM322.1 312.3h1v1h-1zM323.5 303.6h1v1h-1zM321.5 301.0h1v1h-1zM318.8 304.9h1v1h-1zM320.3 314.2h1v1h-1zM323.2 312.5h1v1h-1zM322.8 311.2h1v1h-1zM320.0 302.8h1v1h-1zM321.2 311.6h1v1h-1zM322.9 310.4h1v1h-1zM322.9 314.0h1v1h-1zM320.7 307.3h1v1h-1zM322.5 305.4h1v1h-1zM323.6 311.8h1v1h-1zM324.6 305.5h1v1h-1zM324.4 301.8h1v1h-1zM321.5 310.2h1v1h-1zM325.3 299.4h1v1h-1zM324.0 303.4h1v1h-1zM322.1 314.6h1v1h-1zM325.3 301.3h1v1h-1zM322.9 307.7h1v1h-1zM322.1 304.8h1v1h-1zM318.5 318.6h1v1h-1zM323.7 302.3h1v1h-1zM324.8 299.4h1v1h-1zM322.5 306.9h1v1h-1zM320.9 293.7h1v1h-1zM322.2 308.4h1v1h-1zM321.9 309.4h1v1h-1zM322.3 316.1h1v1h-1zM326.1 315.7h1v1h-1zM322.0 299.8h1v1h-1zM322.7 303.5h1v1h-1zM322.1 312.5h1v1h-1z" fill="#000" fill-opacity="0.40"/><path d="M322.6 311.6h1v1h-1zM322.9 307.1h1v1h-1zM321.5 307.6h1v1h-1zM324.3 297.3h1v1h-1zM322.5 306.7h1v1h-1zM324.1 304.4h1v1h-1zM321.3 304.1h1v1h-1zM321.1 308.1h1v1h-1zM325.1 314.5h1v1h-1zM321.6 300.2h1v1h-1zM323.1 308.6h1v1h-1zM319.3 307.4h1v1h-1zM317.1 312.7h1v1h-1zM325.5 302.4h1v1h-1zM322.3 308.5h1v1h-1zM323.1 306.6h1v1h-1zM321.5 313.0h1v1h-1zM323.1 304.5h1v1h-1zM320.6 301.8h1v1h-1zM319.7 308.0h1v1h-1zM322.7 302.6h1v1h-1zM323.8 297.9h1v1h-1zM321.6 312.9h1v1h-1zM322.7 304.5h1v1h-1zM323.7 307.0h1v1h-1zM321.6 304.8h1v1h-1zM321.4 313.0h1v1h-1zM321.8 308.1h1v1h-1zM320.3 303.6h1v1h-1zM324.3 307.6h1v1h-1zM324.4 303.6h1v1h-1zM323.3 303.9h1v1h-1zM323.4 292.3h1v1h-1zM322.1 313.9h1v1h-1zM318.3 303.0h1v1h-1zM324.4 315.1h1v1h-1zM322.2 304.3h1v1h-1zM323.9 305.9h1v1h-1zM321.5 312.0h1v1h-1zM323.2 301.8h1v1h-1zM320.8 302.8h1v1h-1zM322.9 300.8h1v1h-1zM320.6 301.9h1v1h-1zM322.5 303.0h1v1h-1zM324.1 289.9h1v1h-1zM319.6 291.7h1v1h-1zM321.6 300.0h1v1h-1z" fill="#000" fill-opacity="0.45"/><path d="M322.2 307.9h1v1h-1zM320.0 302.7h1v1h-1zM321.6 316.0h1v1h-1zM321.9 298.5h1v1h-1zM321.6 306.7h1v1h-1zM321.3 319.8h1v1h-1zM322.6 303.9h1v1h-1zM319.2 306.6h1v1h-1zM325.0 310.3h1v1h-1zM318.6 313.8h1v1h-1zM322.5 312.3h1v1h-1zM321.8 295.0h1v1h-1zM319.1 296.4h1v1h-1zM324.4 305.8h1v1h-1zM320.9 311.4h1v1h-1zM321.3 302.8h1v1h-1zM322.3 316.2h1v1h-1zM322.8 313.0h1v1h-1zM320.3 315.0h1v1h-1zM318.1 292.9h1v1h-1zM324.6 306.2h1v1h-1zM324.2 312.1h1v1h-1zM324.1 305.6h1v1h-1zM320.8 315.6h1v1h-1zM320.1 312.5h1v1h-1zM321.2 307.1h1v1h-1zM323.9 306.7h1v1h-1zM322.5 306.1h1v1h-1zM323.2 297.8h1v1h-1zM320.6 308.2h1v1h-1zM322.0 311.9h1v1h-1z" fill="#000" fill-opacity="0.50"/></g>
<text x="336.40" y="282.60" font-size="8.1" text-anchor="end" font-weight="bold" >50.99%</text>
<text x="323.70" y="342.10" font-size="8.1" text-anchor="end" font-weight="bold" >49.01%</text>
<line x1="344.50" y1="274.50" x2="417.50" y2="274.50" stroke="#a2a2a2" stroke-width="1"/>
<line x1="417.50" y1="274.50" x2="417.50" y2="345.50" stroke="#929292" stroke-width="1"/>
<line x1="344.50" y1="274.00" x2="344.50" y2="346.00" stroke="#5a5a5a" stroke-width="1"/>
<line x1="344.50" y1="345.50" x2="418.00" y2="345.50" stroke="#5a5a5a" stroke-width="1"/>
<line x1="344.50" y1="320.50" x2="417.50" y2="320.50" stroke="#6a6a6a" stroke-width="1"/>
<line x1="372.50" y1="274.50" x2="372.50" y2="345.50" stroke="#6a6a6a" stroke-width="1"/>
<line x1="341.00" y1="275.70" x2="342.70" y2="274.30" stroke="#aaa" stroke-width="0.7"/>
<line x1="341.00" y1="293.45" x2="342.70" y2="292.05" stroke="#aaa" stroke-width="0.7"/>
<line x1="341.00" y1="311.20" x2="342.70" y2="309.80" stroke="#aaa" stroke-width="0.7"/>
<line x1="341.00" y1="328.95" x2="342.70" y2="327.55" stroke="#aaa" stroke-width="0.7"/>
<line x1="361.75" y1="349.20" x2="362.75" y2="348.00" stroke="#aaa" stroke-width="0.7"/>
<line x1="380.00" y1="349.20" x2="381.00" y2="348.00" stroke="#aaa" stroke-width="0.7"/>
<line x1="398.25" y1="349.20" x2="399.25" y2="348.00" stroke="#aaa" stroke-width="0.7"/>
<line x1="416.50" y1="349.20" x2="417.50" y2="348.00" stroke="#aaa" stroke-width="0.7"/>
<g filter="url(#bl)"><path d="M396.8 327.8h1v1h-1zM399.4 331.5h1v1h-1zM398.0 323.0h1v1h-1zM401.8 326.0h1v1h-1zM398.3 320.6h1v1h-1zM400.4 331.0h1v1h-1zM399.5 324.2h1v1h-1zM399.9 332.4h1v1h-1zM398.7 322.6h1v1h-1zM397.5 328.6h1v1h-1zM398.3 333.6h1v1h-1zM403.2 324.3h1v1h-1zM401.3 330.5h1v1h-1zM399.5 331.0h1v1h-1z" fill="#000" fill-opacity="0.10"/><path d="M399.0 334.5h1v1h-1zM401.0 331.8h1v1h-1zM395.3 334.2h1v1h-1zM398.0 325.8h1v1h-1zM399.2 330.3h1v1h-1zM398.3 323.5h1v1h-1zM399.0 325.2h1v1h-1zM402.0 320.1h1v1h-1zM401.9 329.5h1v1h-1zM400.4 322.1h1v1h-1zM395.3 324.3h1v1h-1zM398.7 324.6h1v1h-1zM397.8 330.2h1v1h-1zM401.1 321.4h1v1h-1zM399.5 324.8h1v1h-1zM399.1 326.4h1v1h-1zM400.9 332.4h1v1h-1zM399.7 323.5h1v1h-1zM397.8 332.7h1v1h-1zM400.3 320.3h1v1h-1zM397.1 320.9h1v1h-1zM398.6 322.2h1v1h-1zM400.0 328.5h1v1h-1zM400.5 321.5h1v1h-1zM399.2 322.6h1v1h-1zM396.9 334.3h1v1h-1zM400.5 323.3h1v1h-1z" fill="#000" fill-opacity="0.15"/><path d="M399.5 333.3h1v1h-1zM397.3 332.9h1v1h-1zM398.3 326.1h1v1h-1zM401.1 320.5h1v1h-1zM402.8 334.9h1v1h-1zM399.8 331.5h1v1h-1zM401.6 325.8h1v1h-1zM397.6 332.3h1v1h-1zM397.3 330.8h1v1h-1zM403.3 324.5h1v1h-1zM402.8 321.0h1v1h-1zM400.6 332.2h1v1h-1zM398.1 333.6h1v1h-1zM398.5 325.7h1v1h-1zM397.1 333.5h1v1h-1zM401.7 320.7h1v1h-1zM399.8 331.6h1v1h-1zM401.9 334.0h1v1h-1zM397.8 329.3h1v1h-1zM401.0 330.9h1v1h-1zM399.8 325.7h1v1h-1zM398.4 324.5h1v1h-1zM400.8 330.3h1v1h-1zM400.2 324.8h1v1h-1zM399.0 327.9h1v1h-1zM398.4 334.0h1v1h-1zM400.0 331.3h1v1h-1zM398.2 328.7h1v1h-1zM397.5 333.7h1v1h-1zM399.9 322.7h1v1h-1zM397.8 321.3h1v1h-1zM397.4 327.0h1v1h-1zM401.0 331.1h1v1h-1zM400.5 332.6h1v1h-1z" fill="#000" fill-opacity="0.20"/><path d="M400.9 300.3h1v1h-1zM402.7 308.0h1v1h-1zM402.1 310.6h1v1h-1zM402.1 316.8h1v1h-1zM401.9 300.1h1v1h-1zM400.9 301.7h1v1h-1zM402.8 298.6h1v1h-1zM403.1 309.1h1v1h-1zM396.5 327.6h1v1h-1zM399.8 325.4h1v1h-1zM398.7 326.0h1v1h-1zM397.8 335.0h1v1h-1zM400.8 336.0h1v1h-1zM397.5 333.7h1v1h-1zM402.0 327.3h1v1h-1zM401.7 330.3h1v1h-1zM399.5 330.3h1v1h-1zM402.9 331.6h1v1h-1zM400.3 326.6h1v1h-1zM397.5 331.8h1v1h-1zM398.7 328.8h1v1h-1zM398.8 334.5h1v1h-1zM399.6 329.2h1v1h-1zM400.0 321.0h1v1h-1zM397.6 330.5h1v1h-1zM400.9 334.3h1v1h-1zM400.7 327.4h1v1h-1zM398.6 321.5h1v1h-1zM398.8 320.8h1v1h-1zM397.4 331.5h1v1h-1zM401.7 335.0h1v1h-1zM398.8 321.6h1v1h-1zM397.6 326.6h1v1h-1zM401.5 327.2h1v1h-1zM399.2 331.8h1v1h-1zM395.9 321.1h1v1h-1zM402.6 331.5h1v1h-1zM398.7 334.9h1v1h-1zM398.6 321.7h1v1h-1zM400.6 326.7h1v1h-1zM400.5 324.5h1v1h-1zM397.8 328.9h1v1h-1zM397.4 334.9h1v1h-1z" fill="#000" fill-opacity="0.25"/><path d="M400.5 310.6h1v1h-1zM402.4 314.8h1v1h-1zM400.7 296.3h1v1h-1zM400.5 313.1h1v1h-1zM401.1 310.6h1v1h-1zM397.3 311.8h1v1h-1zM403.7 304.6h1v1h-1zM397.0 303.8h1v1h-1zM402.1 309.7h1v1h-1zM403.3 307.2h1v1h-1zM401.3 297.0h1v1h-1zM399.9 312.0h1v1h-1zM399.5 320.0h1v1h-1zM399.2 309.6h1v1h-1zM402.8 313.4h1v1h-1zM398.1 306.2h1v1h-1zM398.7 308.8h1v1h-1zM399.4 304.8h1v1h-1zM399.6 300.9h1v1h-1zM399.2 302.8h1v1h-1zM401.7 305.7h1v1h-1zM400.8 306.9h1v1h-1zM400.4 300.8h1v1h-1zM400.6 309.9h1v1h-1zM400.7 311.9h1v1h-1zM403.0 302.1h1v1h-1zM399.7 308.6h1v1h-1zM400.9 305.0h1v1h-1zM403.7 303.7h1v1h-1zM400.4 300.4h1v1h-1zM400.8 296.4h1v1h-1zM401.8 302.2h1v1h-1zM398.6 308.1h1v1h-1zM400.3 309.3h1v1h-1zM398.6 311.6h1v1h-1zM403.6 313.4h1v1h-1zM399.5 306.3h1v1h-1zM401.5 317.8h1v1h-1zM401.2 304.1h1v1h-1zM400.5 303.1h1v1h-1zM400.3 297.6h1v1h-1zM402.3 301.2h1v1h-1zM399.7 302.3h1v1h-1zM398.3 308.0h1v1h-1zM398.5 305.0h1v1h-1zM401.6 302.5h1v1h-1zM401.1 309.7h1v1h-1zM401.8 306.5h1v1h-1zM403.3 305.5h1v1h-1z" fill="#000" fill-opacity="0.30"/><path d="M400.3 300.3h1v1h-1zM403.1 303.0h1v1h-1zM400.0 307.3h1v1h-1zM399.7 311.8h1v1h-1zM400.2 310.7h1v1h-1zM401.4 309.7h1v1h-1zM402.6 308.8h1v1h-1zM402.7 306.7h1v1h-1zM401.5 311.4h1v1h-1zM402.3 303.8h1v1h-1zM400.5 317.8h1v1h-1zM397.7 297.6h1v1h-1zM398.4 315.8h1v1h-1zM397.2 308.3h1v1h-1zM399.5 308.3h1v1h-1zM400.2 302.1h1v1h-1zM401.4 304.7h1v1h-1zM397.7 307.6h1v1h-1zM399.9 309.1h1v1h-1zM401.6 313.7h1v1h-1zM398.0 311.7h1v1h-1zM401.4 315.6h1v1h-1zM402.4 303.6h1v1h-1zM405.3 303.5h1v1h-1zM399.8 316.1h1v1h-1zM399.5 310.5h1v1h-1zM400.9 306.8h1v1h-1zM402.4 311.2h1v1h-1zM400.8 302.2h1v1h-1zM404.6 306.2h1v1h-1zM402.8 305.9h1v1h-1zM403.0 308.4h1v1h-1zM399.0 311.2h1v1h-1zM402.8 297.2h1v1h-1zM402.8 305.9h1v1h-1zM406.0 308.3h1v1h-1zM400.9 308.0h1v1h-1z" fill="#000" fill-opacity="0.35"/><path d="M401.1 306.0h1v1h-1zM400.1 307.0h1v1h-1zM403.0 307.0h1v1h-1zM400.9 297.9h1v1h-1zM399.5 307.2h1v1h-1zM399.6 301.2h1v1h-1zM403.0 314.7h1v1h-1zM400.0 316.5h1v1h-1zM401.0 312.6h1v1h-1zM402.3 316.6h1v1h-1zM402.1 315.8h1v1h-1zM399.4 315.8h1v1h-1zM397.1 307.8h1v1h-1zM399.9 309.8h1v1h-1zM398.3 302.8h1v1h-1zM399.6 305.7h1v1h-1zM402.2 314.9h1v1h-1zM399.8 308.5h1v1h-1zM399.9 304.3h1v1h-1zM400.5 302.2h1v1h-1zM399.1 305.0h1v1h-1zM403.4 300.1h1v1h-1zM401.1 303.7h1v1h-1zM399.5 304.4h1v1h-1zM400.4 305.0h1v1h-1zM401.3 305.6h1v1h-1zM397.8 312.0h1v1h-1zM400.9 308.2h1v1h-1zM403.2 311.6h1v1h-1zM401.2 307.0h1v1h-1zM402.5 307.4h1v1h-1zM399.8 310.4h1v1h-1zM399.0 301.3h1v1h-1zM403.4 316.4h1v1h-1zM402.3 307.1h1v1h-1zM400.9 308.8h1v1h-1zM400.5 303.7h1v1h-1zM399.9 317.8h1v1h-1zM402.2 303.0h1v1h-1zM399.7 299.6h1v1h-1zM399.0 311.0h1v1h-1zM405.2 310.4h1v1h-1zM399.9 310.9h1v1h-1zM401.9 291.1h1v1h-1z" fill="#000" fill-opacity="0.40"/><path d="M401.3 309.8h1v1h-1zM398.5 313.8h1v1h-1zM402.9 297.9h1v1h-1zM401.3 300.8h1v1h-1zM402.6 307.8h1v1h-1zM397.5 311.9h1v1h-1zM401.3 312.3h1v1h-1zM400.8 310.6h1v1h-1zM402.6 313.4h1v1h-1zM398.8 313.8h1v1h-1zM398.6 309.3h1v1h-1zM400.5 297.5h1v1h-1zM402.2 304.1h1v1h-1zM400.8 304.8h1v1h-1zM401.4 304.2h1v1h-1zM400.5 311.3h1v1h-1zM400.5 315.5h1v1h-1zM403.8 310.8h1v1h-1zM401.2 316.3h1v1h-1zM402.3 303.3h1v1h-1zM404.3 315.5h1v1h-1zM402.0 315.9h1v1h-1zM402.4 309.2h1v1h-1zM404.4 297.6h1v1h-1zM401.9 302.3h1v1h-1zM399.6 307.0h1v1h-1zM401.2 318.2h1v1h-1zM400.4 299.9h1v1h-1zM398.4 318.2h1v1h-1zM399.4 315.4h1v1h-1zM400.8 317.5h1v1h-1zM400.8 308.4h1v1h-1zM400.7 304.0h1v1h-1zM399.3 303.9h1v1h-1zM398.5 304.4h1v1h-1zM400.9 301.8h1v1h-1zM398.0 308.5h1v1h-1zM398.8 301.5h1v1h-1zM400.2 309.7h1v1h-1zM397.6 299.0h1v1h-1zM400.2 300.5h1v1h-1zM402.7 303.5h1v1h-1zM400.3 315.0h1v1h-1zM402.2 308.1h1v1h-1zM399.1 304.2h1v1h-1zM399.3 311.1h1v1h-1zM399.1 311.3h1v1h-1zM400.1 304.6h1v1h-1zM402.6 299.7h1v1h-1zM400.6 319.2h1v1h-1zM400.6 309.4h1v1h-1zM402.2 303.2h1v1h-1zM401.2 307.6h1v1h-1z" fill="#000" fill-opacity="0.45"/><path d="M399.0 299.4h1v1h-1zM401.4 309.2h1v1h-1zM400.3 306.5h1v1h-1zM400.6 315.3h1v1h-1zM400.6 298.9h1v1h-1zM398.2 318.5h1v1h-1zM401.0 307.4h1v1h-1zM402.4 307.2h1v1h-1zM401.9 311.7h1v1h-1zM401.0 303.5h1v1h-1zM400.7 319.4h1v1h-1zM400.0 302.5h1v1h-1zM398.2 309.0h1v1h-1zM402.0 300.2h1v1h-1zM401.5 314.3h1v1h-1zM402.9 317.4h1v1h-1zM399.8 315.9h1v1h-1zM399.9 314.1h1v1h-1zM401.7 307.3h1v1h-1zM398.7 309.7h1v1h-1zM403.0 309.7h1v1h-1zM400.5 313.5h1v1h-1zM402.1 293.7h1v1h-1zM401.5 310.9h1v1h-1zM400.6 319.8h1v1h-1zM402.6 313.2h1v1h-1zM398.9 311.9h1v1h-1zM401.3 302.9h1v1h-1zM400.5 308.9h1v1h-1zM398.5 312.7h1v1h-1zM398.8 310.5h1v1h-1zM403.1 317.0h1v1h-1zM403.3 303.6h1v1h-1zM400.6 300.5h1v1h-1zM400.2 310.6h1v1h-1zM404.2 302.3h1v1h-1zM402.5 301.3h1v1h-1zM400.0 313.2h1v1h-1zM403.4 305.8h1v1h-1zM400.0 292.9h1v1h-1z" fill="#000" fill-opacity="0.50"/><path d="M402.0 307.6h1v1h-1zM398.6 317.9h1v1h-1zM399.7 308.1h1v1h-1zM399.7 315.1h1v1h-1zM401.5 314.8h1v1h-1zM401.5 313.3h1v1h-1zM400.1 309.9h1v1h-1zM402.6 311.3h1v1h-1zM403.8 307.8h1v1h-1zM399.6 291.5h1v1h-1zM404.1 298.6h1v1h-1zM401.0 311.5h1v1h-1zM401.9 315.6h1v1h-1zM398.7 300.4h1v1h-1zM403.0 307.0h1v1h-1zM400.6 309.6h1v1h-1zM400.4 305.6h1v1h-1zM399.2 307.9h1v1h-1zM399.7 317.6h1v1h-1z" fill="#000" fill-opacity="0.55"/></g>
<text x="417.80" y="283.90" font-size="8.1" text-anchor="end" font-weight="bold" >55.78%</text>
<text x="404.40" y="342.80" font-size="8.1" text-anchor="end" font-weight="bold" >44.22%</text>
<path d="M68 215.2 V187.1" stroke="#000" stroke-width="2" fill="none"/>
<path d="M63.7 193.79999999999998 L68 187.29999999999998 L72.3 193.79999999999998" stroke="#000" stroke-width="2" fill="none" stroke-linejoin="miter"/>
<path d="M68.2 306.3 V279" stroke="#000" stroke-width="2" fill="none"/>
<path d="M63.900000000000006 285.7 L68.2 279.2 L72.5 285.7" stroke="#000" stroke-width="2" fill="none" stroke-linejoin="miter"/>
<path d="M254.5 215.5 V187.5" stroke="#000" stroke-width="2" fill="none"/>
<path d="M250.2 194.2 L254.5 187.7 L258.8 194.2" stroke="#000" stroke-width="2" fill="none" stroke-linejoin="miter"/>
<path d="M253.8 307 V279" stroke="#000" stroke-width="2" fill="none"/>
<path d="M249.5 285.7 L253.8 279.2 L258.1 285.7" stroke="#000" stroke-width="2" fill="none" stroke-linejoin="miter"/>
<text x="72.7" y="240.4" font-size="11.9" text-anchor="middle" font-weight="normal" transform="rotate(-90 72.7 240.4)">F4/80</text>
<text x="73.2" y="328.6" font-size="11.9" text-anchor="middle" font-weight="normal" transform="rotate(-90 73.2 328.6)">Ly6G</text>
<text x="258.3" y="235.3" font-size="11.9" text-anchor="middle" font-weight="normal" transform="rotate(-90 258.3 235.3)">CD4</text>
<text x="258.4" y="332.8" font-size="11.9" text-anchor="middle" font-weight="normal" transform="rotate(-90 258.4 332.8)">CD8</text>
<text x="84.30" y="363.00" font-size="12" text-anchor="start" font-weight="normal" >CD45</text>
<path d="M124.5 359.5 H221.5" stroke="#000" stroke-width="2" fill="none"/>
<path d="M215.0 355.5 L221.5 359.5 L215.0 363.5" stroke="#000" stroke-width="2" fill="none"/>
<text x="267.00" y="362.70" font-size="12" text-anchor="start" font-weight="normal" >CD45</text>
<path d="M306 359.6 H402.5" stroke="#000" stroke-width="2" fill="none"/>
<path d="M396.0 355.6 L402.5 359.6 L396.0 363.6" stroke="#000" stroke-width="2" fill="none"/>
<rect x="436.00" y="354.60" width="65.50" height="39.40" fill="none" stroke="#444" stroke-width="1"/>
<rect x="444.90" y="367.00" width="9.20" height="5.20" fill="#fff" stroke="#000" stroke-width="1"/>
<rect x="444.90" y="381.00" width="9.20" height="5.80" fill="#1f1f1f" stroke="#000" stroke-width="1"/>
<text x="459.60" y="373.20" font-size="10" text-anchor="start" font-weight="normal" >Control</text>
<text x="459.60" y="387.90" font-size="10.3" text-anchor="start" font-weight="normal" >DSS</text>
<line x1="45.00" y1="422.00" x2="45.00" y2="518.10" stroke="#000" stroke-width="1.5"/>
<line x1="44.50" y1="517.50" x2="132.50" y2="517.50" stroke="#000" stroke-width="1.2"/>
<text x="42.20" y="521.40" font-size="9.7" text-anchor="end" font-weight="normal" >0</text>
<text x="42.20" y="502.44" font-size="9.7" text-anchor="end" font-weight="normal" >4</text>
<text x="42.20" y="483.48" font-size="9.7" text-anchor="end" font-weight="normal" >8</text>
<text x="42.20" y="464.52" font-size="9.7" text-anchor="end" font-weight="normal" >12</text>
<text x="42.20" y="445.56" font-size="9.7" text-anchor="end" font-weight="normal" >16</text>
<text x="42.20" y="426.60" font-size="9.7" text-anchor="end" font-weight="normal" >20</text>
<line x1="43.00" y1="507.80" x2="45.00" y2="507.80" stroke="#000" stroke-width="1"/>
<line x1="43.00" y1="498.30" x2="45.00" y2="498.30" stroke="#000" stroke-width="1"/>
<line x1="43.00" y1="488.80" x2="45.00" y2="488.80" stroke="#000" stroke-width="1"/>
<line x1="43.00" y1="479.30" x2="45.00" y2="479.30" stroke="#000" stroke-width="1"/>
<line x1="43.00" y1="469.80" x2="45.00" y2="469.80" stroke="#000" stroke-width="1"/>
<line x1="43.00" y1="460.30" x2="45.00" y2="460.30" stroke="#000" stroke-width="1"/>
<line x1="43.00" y1="450.80" x2="45.00" y2="450.80" stroke="#000" stroke-width="1"/>
<line x1="43.00" y1="441.30" x2="45.00" y2="441.30" stroke="#000" stroke-width="1"/>
<line x1="43.00" y1="431.80" x2="45.00" y2="431.80" stroke="#000" stroke-width="1"/>
<rect x="55.00" y="495.00" width="11.30" height="22.00" fill="#fff" stroke="#000" stroke-width="1"/>
<rect x="67.30" y="457.50" width="11.70" height="59.50" fill="#1f1f1f" stroke="#000" stroke-width="1"/>
<rect x="90.50" y="505.00" width="11.50" height="12.00" fill="#fff" stroke="#000" stroke-width="1"/>
<rect x="103.00" y="482.50" width="11.50" height="34.50" fill="#1f1f1f" stroke="#000" stroke-width="1"/>
<line x1="60.50" y1="493.30" x2="60.50" y2="494.50" stroke="#000" stroke-width="1"/>
<line x1="58.50" y1="493.30" x2="62.50" y2="493.30" stroke="#000" stroke-width="1"/>
<line x1="73.50" y1="446.30" x2="73.50" y2="457.00" stroke="#000" stroke-width="1"/>
<line x1="71.50" y1="446.30" x2="75.50" y2="446.30" stroke="#000" stroke-width="1"/>
<line x1="108.50" y1="480.80" x2="108.50" y2="482.00" stroke="#000" stroke-width="1"/>
<line x1="106.50" y1="480.80" x2="110.50" y2="480.80" stroke="#000" stroke-width="1"/>
<path d="M59.40 429.50L59.40 434.50M61.57 430.75L57.23 433.25M61.57 433.25L57.23 430.75" stroke="#000" stroke-width="1.05" fill="none"/>
<path d="M66.50 429.50L66.50 434.50M68.67 430.75L64.33 433.25M68.67 433.25L64.33 430.75" stroke="#000" stroke-width="1.05" fill="none"/>
<path d="M73.50 429.50L73.50 434.50M75.67 430.75L71.33 433.25M75.67 433.25L71.33 430.75" stroke="#000" stroke-width="1.05" fill="none"/>
<path d="M57.8 442.8 V437.4 H73.3 V442.8" fill="none" stroke="#000" stroke-width="1.15"/>
<path d="M95.20 465.30L95.20 470.30M97.37 466.55L93.03 469.05M97.37 469.05L93.03 466.55" stroke="#000" stroke-width="1.05" fill="none"/>
<path d="M102.10 465.30L102.10 470.30M104.27 466.55L99.93 469.05M104.27 469.05L99.93 466.55" stroke="#000" stroke-width="1.05" fill="none"/>
<path d="M109.10 465.30L109.10 470.30M111.27 466.55L106.93 469.05M111.27 469.05L106.93 466.55" stroke="#000" stroke-width="1.05" fill="none"/>
<path d="M93.2 478.4 V472.5 H109.1 V478.4" fill="none" stroke="#000" stroke-width="1.15"/>
<path d="M89.50 405.70L89.50 410.70M91.67 406.95L87.33 409.45M91.67 409.45L87.33 406.95" stroke="#000" stroke-width="1.05" fill="none"/>
<path d="M96.30 405.70L96.30 410.70M98.47 406.95L94.13 409.45M98.47 409.45L94.13 406.95" stroke="#000" stroke-width="1.05" fill="none"/>
<path d="M73.2 421.1 V415.5 H113.4 V421.1" fill="none" stroke="#000" stroke-width="1.15"/>
<text x="27.6" y="470.1" font-size="11.9" text-anchor="middle" font-weight="normal" transform="rotate(-90 27.6 470.1)">% Ly6G<tspan font-size="7.5" dy="-5">+</tspan><tspan dy="5"> cells</tspan></text>
<text x="65.85" y="532.10" font-size="11.8" text-anchor="middle" font-weight="normal" >WT</text>
<text x="83.2" y="531.8" font-size="11.1" text-anchor="start">p38&#947;/&#948;<tspan font-size="7.10" dy="-3.66">-/-</tspan></text>
<line x1="164.60" y1="422.00" x2="164.60" y2="518.10" stroke="#000" stroke-width="1.4"/>
<line x1="164.10" y1="517.50" x2="250.50" y2="517.50" stroke="#000" stroke-width="1.2"/>
<text x="162.00" y="521.40" font-size="9.7" text-anchor="end" font-weight="normal" >0</text>
<text x="162.00" y="502.44" font-size="9.7" text-anchor="end" font-weight="normal" >4</text>
<text x="162.00" y="483.48" font-size="9.7" text-anchor="end" font-weight="normal" >8</text>
<text x="162.00" y="464.52" font-size="9.7" text-anchor="end" font-weight="normal" >12</text>
<text x="162.00" y="445.56" font-size="9.7" text-anchor="end" font-weight="normal" >16</text>
<text x="162.00" y="426.60" font-size="9.7" text-anchor="end" font-weight="normal" >20</text>
<line x1="162.60" y1="507.80" x2="164.60" y2="507.80" stroke="#000" stroke-width="1"/>
<line x1="162.60" y1="498.30" x2="164.60" y2="498.30" stroke="#000" stroke-width="1"/>
<line x1="162.60" y1="488.80" x2="164.60" y2="488.80" stroke="#000" stroke-width="1"/>
<line x1="162.60" y1="479.30" x2="164.60" y2="479.30" stroke="#000" stroke-width="1"/>
<line x1="162.60" y1="469.80" x2="164.60" y2="469.80" stroke="#000" stroke-width="1"/>
<line x1="162.60" y1="460.30" x2="164.60" y2="460.30" stroke="#000" stroke-width="1"/>
<line x1="162.60" y1="450.80" x2="164.60" y2="450.80" stroke="#000" stroke-width="1"/>
<line x1="162.60" y1="441.30" x2="164.60" y2="441.30" stroke="#000" stroke-width="1"/>
<line x1="162.60" y1="431.80" x2="164.60" y2="431.80" stroke="#000" stroke-width="1"/>
<rect x="173.50" y="515.30" width="11.20" height="1.70" fill="#fff" stroke="#000" stroke-width="1"/>
<rect x="185.70" y="461.30" width="11.80" height="55.70" fill="#1f1f1f" stroke="#000" stroke-width="1"/>
<rect x="209.30" y="511.00" width="11.20" height="6.00" fill="#fff" stroke="#000" stroke-width="1"/>
<rect x="221.50" y="491.80" width="11.80" height="25.20" fill="#1f1f1f" stroke="#000" stroke-width="1"/>
<line x1="179.50" y1="513.50" x2="179.50" y2="514.80" stroke="#000" stroke-width="1"/>
<line x1="178.00" y1="513.50" x2="181.00" y2="513.50" stroke="#000" stroke-width="1"/>
<line x1="191.50" y1="459.80" x2="191.50" y2="460.80" stroke="#000" stroke-width="1"/>
<line x1="189.50" y1="459.80" x2="193.50" y2="459.80" stroke="#000" stroke-width="1"/>
<line x1="214.50" y1="509.80" x2="214.50" y2="510.50" stroke="#000" stroke-width="1"/>
<line x1="213.00" y1="509.80" x2="216.00" y2="509.80" stroke="#000" stroke-width="1"/>
<line x1="227.50" y1="490.00" x2="227.50" y2="491.30" stroke="#000" stroke-width="1"/>
<line x1="225.50" y1="490.00" x2="229.50" y2="490.00" stroke="#000" stroke-width="1"/>
<path d="M181.50 444.00L181.50 449.00M183.67 445.25L179.33 447.75M183.67 447.75L179.33 445.25" stroke="#000" stroke-width="1.05" fill="none"/>
<path d="M188.30 444.00L188.30 449.00M190.47 445.25L186.13 447.75M190.47 447.75L186.13 445.25" stroke="#000" stroke-width="1.05" fill="none"/>
<path d="M176.3 456.8 V451.6 H192 V456.8" fill="none" stroke="#000" stroke-width="1.15"/>
<path d="M219.50 474.10L219.50 479.10M221.67 475.35L217.33 477.85M221.67 477.85L217.33 475.35" stroke="#000" stroke-width="1.05" fill="none"/>
<path d="M212.4 487 V481.7 H228 V487" fill="none" stroke="#000" stroke-width="1.15"/>
<path d="M211.00 425.70L211.00 430.70M213.17 426.95L208.83 429.45M213.17 429.45L208.83 426.95" stroke="#000" stroke-width="1.05" fill="none"/>
<path d="M218.50 425.70L218.50 430.70M220.67 426.95L216.33 429.45M220.67 429.45L216.33 426.95" stroke="#000" stroke-width="1.05" fill="none"/>
<path d="M192.3 439 V433.7 H232 V439" fill="none" stroke="#000" stroke-width="1.15"/>
<text x="143.9" y="468.8" font-size="11.9" text-anchor="middle" font-weight="normal" transform="rotate(-90 143.9 468.8)">% F4/80<tspan font-size="7.5" dy="-5">+</tspan><tspan dy="5"> cells</tspan></text>
<text x="184.30" y="532.10" font-size="11.8" text-anchor="middle" font-weight="normal" >WT</text>
<text x="202" y="531.8" font-size="11.1" text-anchor="start">p38&#947;/&#948;<tspan font-size="7.10" dy="-3.66">-/-</tspan></text>
<line x1="276.70" y1="419.50" x2="276.70" y2="518.10" stroke="#000" stroke-width="1.3"/>
<line x1="276.20" y1="517.50" x2="361.80" y2="517.50" stroke="#000" stroke-width="1.2"/>
<text x="274.60" y="522.10" font-size="9.7" text-anchor="end" font-weight="normal" >0</text>
<text x="274.60" y="505.86" font-size="9.7" text-anchor="end" font-weight="normal" >2</text>
<text x="274.60" y="489.62" font-size="9.7" text-anchor="end" font-weight="normal" >4</text>
<text x="274.60" y="473.38" font-size="9.7" text-anchor="end" font-weight="normal" >6</text>
<text x="274.60" y="457.14" font-size="9.7" text-anchor="end" font-weight="normal" >8</text>
<text x="274.60" y="440.90" font-size="9.7" text-anchor="end" font-weight="normal" >10</text>
<text x="274.60" y="424.66" font-size="9.7" text-anchor="end" font-weight="normal" >12</text>
<line x1="274.70" y1="501.24" x2="276.70" y2="501.24" stroke="#000" stroke-width="1"/>
<line x1="274.70" y1="484.98" x2="276.70" y2="484.98" stroke="#000" stroke-width="1"/>
<line x1="274.70" y1="468.72" x2="276.70" y2="468.72" stroke="#000" stroke-width="1"/>
<line x1="274.70" y1="452.46" x2="276.70" y2="452.46" stroke="#000" stroke-width="1"/>
<line x1="274.70" y1="436.20" x2="276.70" y2="436.20" stroke="#000" stroke-width="1"/>
<line x1="274.70" y1="419.94" x2="276.70" y2="419.94" stroke="#000" stroke-width="1"/>
<rect x="285.50" y="490.00" width="12.00" height="27.00" fill="#fff" stroke="#000" stroke-width="1"/>
<rect x="298.50" y="460.50" width="11.80" height="56.50" fill="#1f1f1f" stroke="#000" stroke-width="1"/>
<rect x="321.00" y="481.00" width="11.50" height="36.00" fill="#fff" stroke="#000" stroke-width="1"/>
<rect x="333.50" y="461.80" width="11.30" height="55.20" fill="#1f1f1f" stroke="#000" stroke-width="1"/>
<line x1="291.50" y1="475.00" x2="291.50" y2="489.50" stroke="#000" stroke-width="1"/>
<line x1="289.50" y1="475.00" x2="293.50" y2="475.00" stroke="#000" stroke-width="1"/>
<line x1="304.50" y1="444.00" x2="304.50" y2="460.00" stroke="#000" stroke-width="1"/>
<line x1="302.50" y1="444.00" x2="306.50" y2="444.00" stroke="#000" stroke-width="1"/>
<line x1="326.50" y1="473.80" x2="326.50" y2="480.50" stroke="#000" stroke-width="1"/>
<line x1="324.50" y1="473.80" x2="328.50" y2="473.80" stroke="#000" stroke-width="1"/>
<line x1="339.50" y1="439.50" x2="339.50" y2="461.30" stroke="#000" stroke-width="1"/>
<line x1="337.50" y1="439.50" x2="341.50" y2="439.50" stroke="#000" stroke-width="1"/>
<path d="M295.30 426.90L295.30 431.90M297.47 428.15L293.13 430.65M297.47 430.65L293.13 428.15" stroke="#000" stroke-width="1.05" fill="none"/>
<path d="M288.3 439.3 V434.4 H304.1 V439.3" fill="none" stroke="#000" stroke-width="1.15"/>
<path d="M331.00 425.40L331.00 430.40M333.17 426.65L328.83 429.15M333.17 429.15L328.83 426.65" stroke="#000" stroke-width="1.05" fill="none"/>
<path d="M323.6 438.8 V433.3 H339.5 V438.8" fill="none" stroke="#000" stroke-width="1.15"/>
<text x="324.70" y="414.20" font-size="11.3" text-anchor="middle" font-weight="normal" >ns</text>
<path d="M304.2 422 V416.6 H343.7 V422" fill="none" stroke="#000" stroke-width="1.15"/>
<text x="258" y="471.5" font-size="11.9" text-anchor="middle" font-weight="normal" transform="rotate(-90 258 471.5)">% CD4<tspan font-size="7.5" dy="-5">+</tspan><tspan dy="5"> cells</tspan></text>
<text x="295.85" y="531.80" font-size="11.8" text-anchor="middle" font-weight="normal" >WT</text>
<text x="315" y="531.6" font-size="11.1" text-anchor="start">p38&#947;/&#948;<tspan font-size="7.10" dy="-3.66">-/-</tspan></text>
<line x1="393.60" y1="417.00" x2="393.60" y2="515.90" stroke="#000" stroke-width="1.3"/>
<line x1="393.10" y1="515.30" x2="478.80" y2="515.30" stroke="#000" stroke-width="1.2"/>
<text x="390.70" y="518.60" font-size="9.7" text-anchor="end" font-weight="normal" >0</text>
<text x="390.70" y="496.94" font-size="9.7" text-anchor="end" font-weight="normal" >20</text>
<text x="390.70" y="475.28" font-size="9.7" text-anchor="end" font-weight="normal" >40</text>
<text x="390.70" y="453.62" font-size="9.7" text-anchor="end" font-weight="normal" >60</text>
<text x="390.70" y="431.96" font-size="9.7" text-anchor="end" font-weight="normal" >80</text>
<line x1="392.30" y1="504.17" x2="393.80" y2="504.17" stroke="#000" stroke-width="0.8"/>
<line x1="392.30" y1="493.34" x2="393.80" y2="493.34" stroke="#000" stroke-width="0.8"/>
<line x1="392.30" y1="482.51" x2="393.80" y2="482.51" stroke="#000" stroke-width="0.8"/>
<line x1="392.30" y1="471.68" x2="393.80" y2="471.68" stroke="#000" stroke-width="0.8"/>
<line x1="392.30" y1="460.85" x2="393.80" y2="460.85" stroke="#000" stroke-width="0.8"/>
<line x1="392.30" y1="450.02" x2="393.80" y2="450.02" stroke="#000" stroke-width="0.8"/>
<line x1="392.30" y1="439.19" x2="393.80" y2="439.19" stroke="#000" stroke-width="0.8"/>
<line x1="392.30" y1="428.36" x2="393.80" y2="428.36" stroke="#000" stroke-width="0.8"/>
<rect x="403.20" y="460.70" width="11.70" height="54.30" fill="#fff" stroke="#000" stroke-width="1"/>
<rect x="415.90" y="453.80" width="11.60" height="61.20" fill="#1f1f1f" stroke="#000" stroke-width="1"/>
<rect x="438.00" y="471.00" width="11.20" height="44.00" fill="#fff" stroke="#000" stroke-width="1"/>
<rect x="450.20" y="464.80" width="10.70" height="50.20" fill="#1f1f1f" stroke="#000" stroke-width="1"/>
<line x1="409.50" y1="443.40" x2="409.50" y2="460.20" stroke="#000" stroke-width="1"/>
<line x1="407.00" y1="443.40" x2="412.00" y2="443.40" stroke="#000" stroke-width="1"/>
<line x1="421.50" y1="433.30" x2="421.50" y2="453.30" stroke="#000" stroke-width="1"/>
<line x1="419.00" y1="433.30" x2="424.00" y2="433.30" stroke="#000" stroke-width="1"/>
<line x1="443.50" y1="445.50" x2="443.50" y2="470.50" stroke="#000" stroke-width="1"/>
<line x1="441.00" y1="445.50" x2="446.00" y2="445.50" stroke="#000" stroke-width="1"/>
<line x1="455.50" y1="457.00" x2="455.50" y2="464.30" stroke="#000" stroke-width="1"/>
<line x1="453.00" y1="457.00" x2="458.00" y2="457.00" stroke="#000" stroke-width="1"/>
<text x="414.70" y="424.10" font-size="9.6" text-anchor="middle" font-weight="normal" >ns</text>
<path d="M406.8 431.2 V425.7 H422.9 V431.2" fill="none" stroke="#000" stroke-width="1.15"/>
<text x="452.00" y="435.40" font-size="9.6" text-anchor="middle" font-weight="normal" >ns</text>
<path d="M443.4 443.3 V438.1 H459.2 V443.3" fill="none" stroke="#000" stroke-width="1.15"/>
<text x="441.60" y="413.60" font-size="11.3" text-anchor="middle" font-weight="normal" >ns</text>
<path d="M421.3 421.3 V415.9 H460.6 V421.3" fill="none" stroke="#000" stroke-width="1.15"/>
<text x="375.9" y="472.7" font-size="11.9" text-anchor="middle" font-weight="normal" transform="rotate(-90 375.9 472.7)">% CD8<tspan font-size="7.5" dy="-5">+</tspan><tspan dy="5"> cells</tspan></text>
<text x="412.50" y="530.80" font-size="11.8" text-anchor="middle" font-weight="normal" >WT</text>
<text x="432" y="530.8" font-size="11.1" text-anchor="start">p38&#947;/&#948;<tspan font-size="7.10" dy="-3.66">-/-</tspan></text>
<rect x="0" y="0" width="520" height="1" fill="#505050"/><rect x="0" y="1" width="520" height="1" fill="#b4b4b4"/>
<rect x="0" y="0" width="1" height="553" fill="#505050"/><rect x="1" y="1" width="1" height="552" fill="#b4b4b4"/>
<rect x="517" y="0" width="1" height="553" fill="#d4d4d4"/><rect x="518" y="0" width="1" height="553" fill="#8a8a8a"/><rect x="519" y="0" width="1" height="553" fill="#5a5a5a"/>
<rect x="0" y="550" width="520" height="1" fill="#d4d4d4"/><rect x="0" y="551" width="520" height="1" fill="#8a8a8a"/><rect x="0" y="552" width="520" height="1" fill="#555"/>
</svg>
</body></html>
